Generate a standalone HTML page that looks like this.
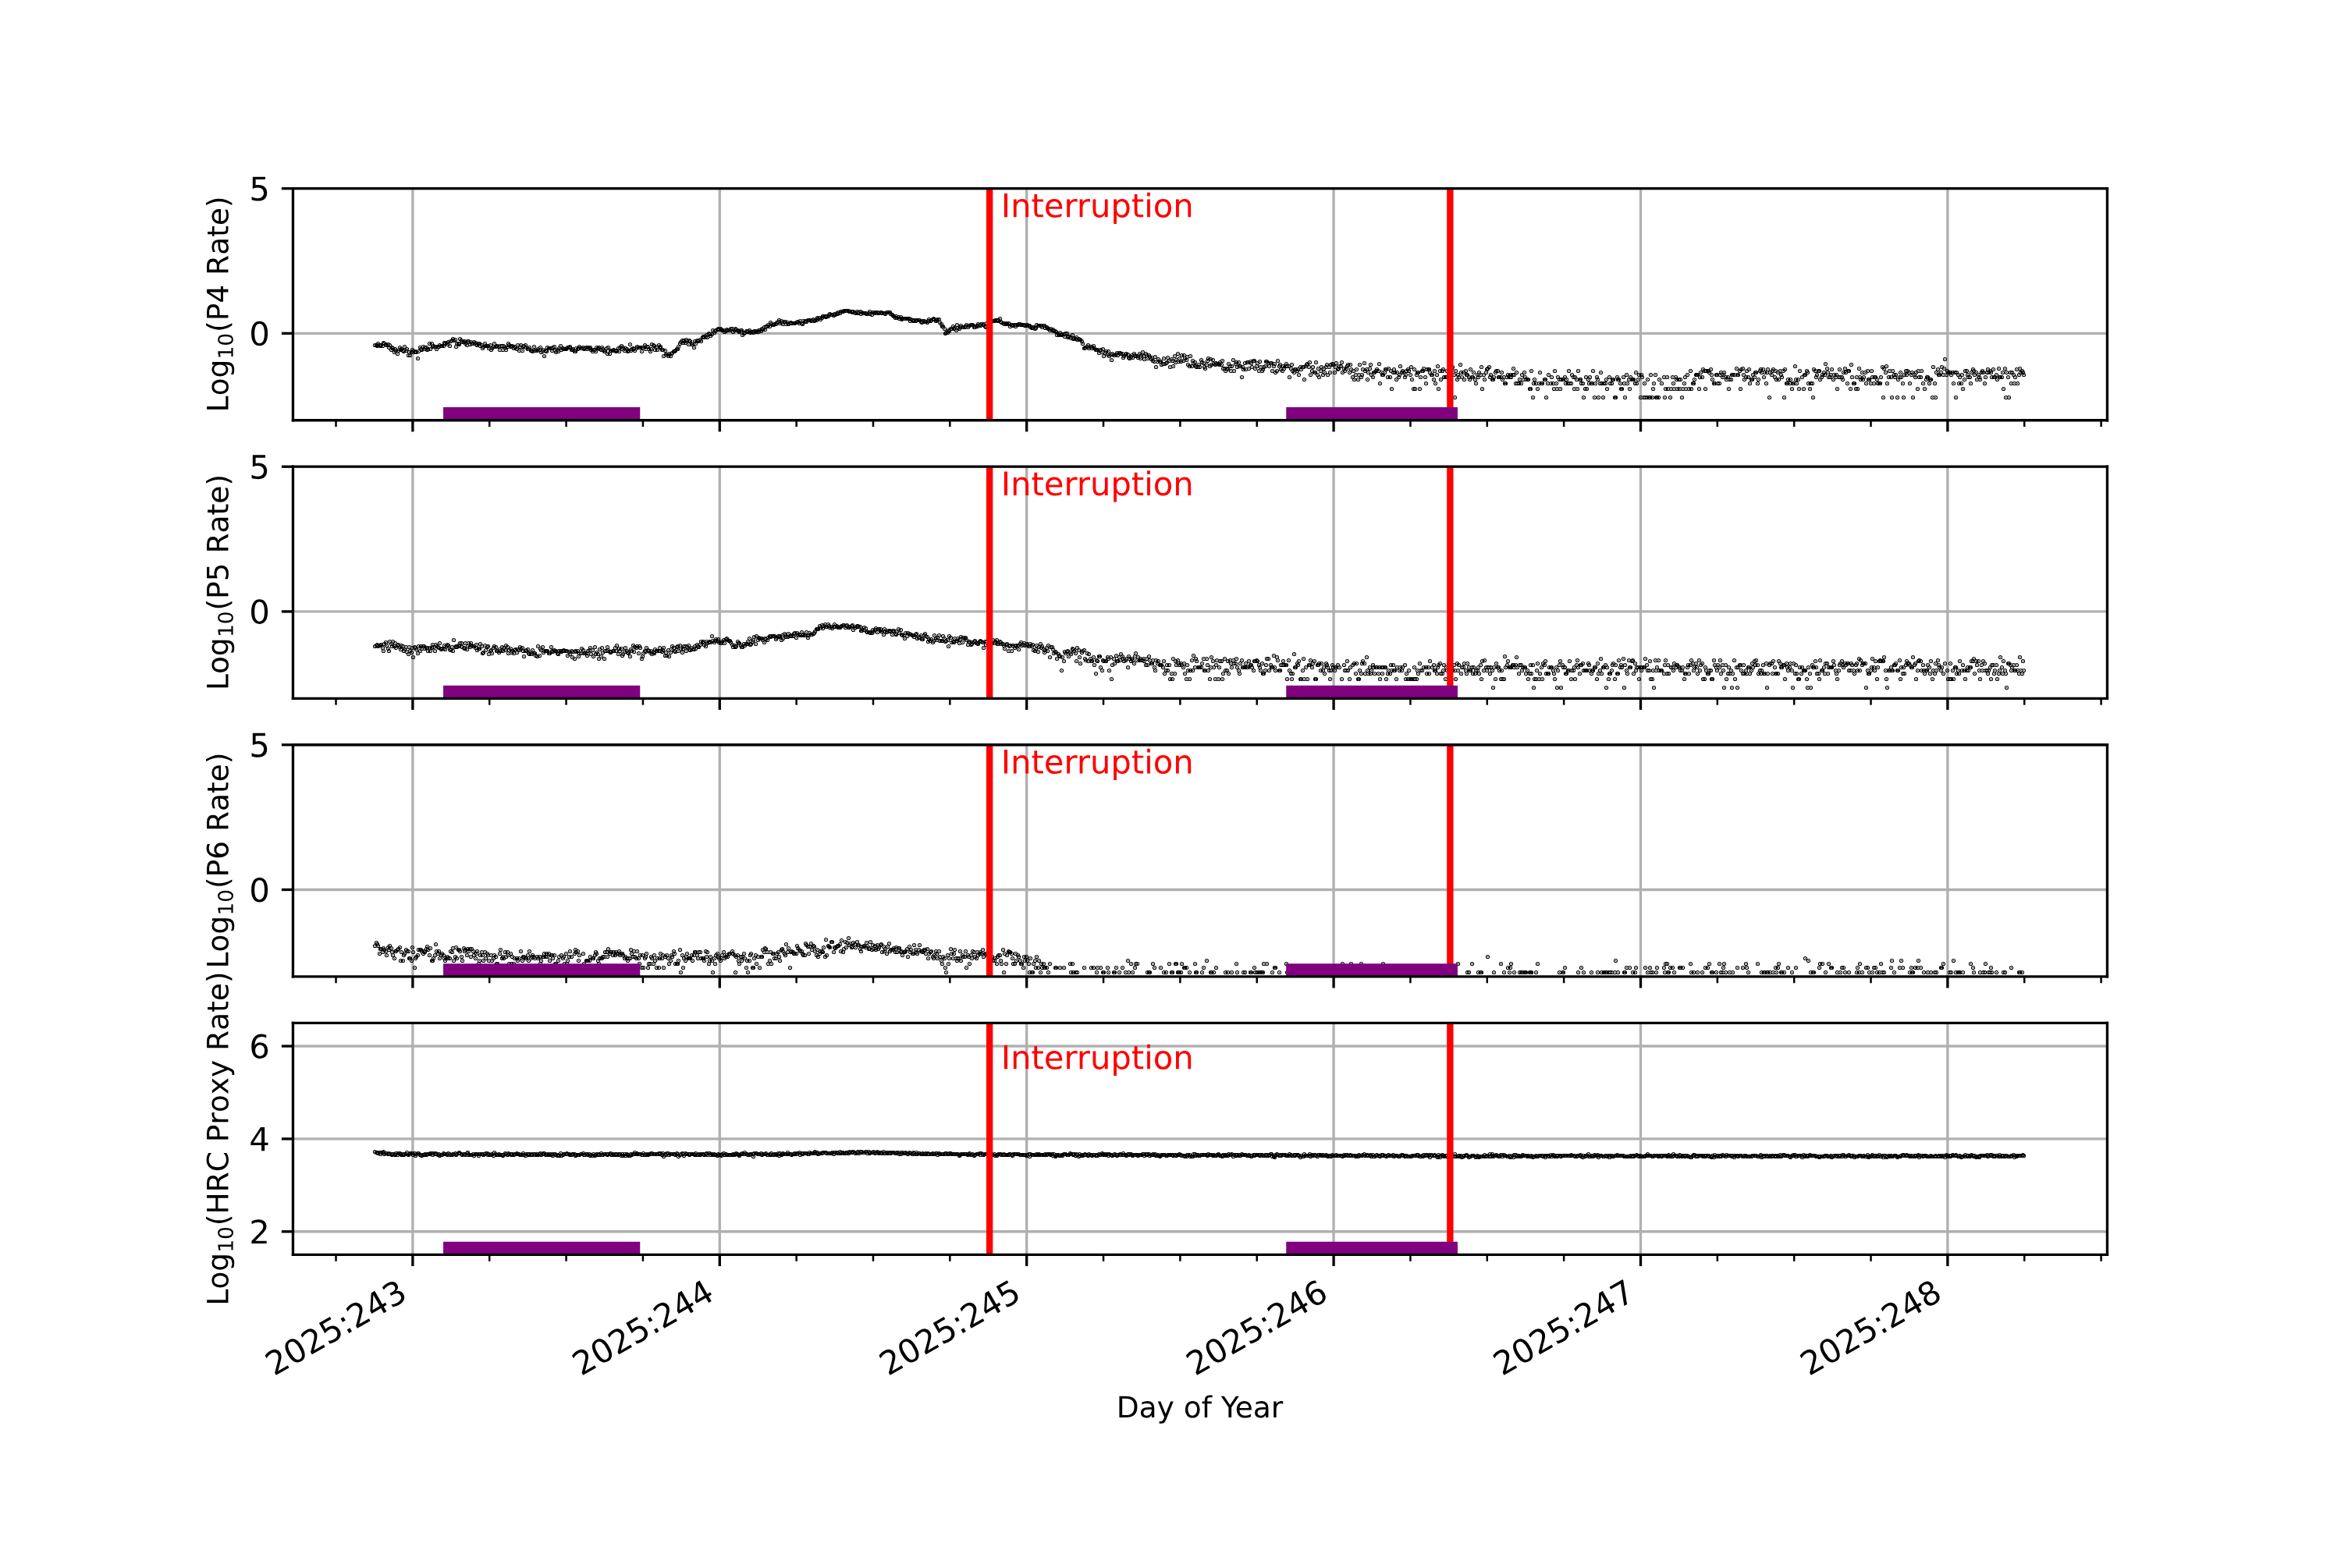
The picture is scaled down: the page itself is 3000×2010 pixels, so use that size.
<!DOCTYPE html>
<html><head><meta charset="utf-8"><title>Rates</title><style>html,body{margin:0;padding:0;background:#fff;font-family:"Liberation Sans",sans-serif}svg{display:block}</style></head><body>
<svg width="3000" height="2010" viewBox="0 0 720 482.4">
<defs>
<style type="text/css">*{stroke-linejoin: round; stroke-linecap: butt}</style>
</defs>
<g id="figure_1">
<g id="patch_1">
<path d="M 0 482.4 
L 720 482.4 
L 720 0 
L 0 0 
z
" style="fill: #ffffff"/>
</g>
<g transform="translate(0.1080 0.1080)"><g id="axes_1">
<g id="patch_2">
<path d="M 90 129.199304 
L 648 129.199304 
L 648 57.888 
L 90 57.888 
z
" style="fill: #ffffff"/>
</g>
<g id="matplotlib.axis_1">
<g id="xtick_1">
<g id="line2d_1">
<path d="M 126.822335 129.199304 
L 126.822335 57.888 
" clip-path="url(#p4e077d8990)" style="fill: none; stroke: #b0b0b0; stroke-width: 0.8; stroke-linecap: square"/>
</g>
<g id="line2d_2">
<defs>
<path id="m1504cfccaf" d="M 0 0 
L 0 3.5 
" style="stroke: #000000; stroke-width: 0.8"/>
</defs>
<g>
<use href="#m1504cfccaf" x="126.822335" y="129.199304" style="stroke: #000000; stroke-width: 0.8"/>
</g>
</g>
</g>
<g id="xtick_2">
<g id="line2d_3">
<path d="M 221.238579 129.199304 
L 221.238579 57.888 
" clip-path="url(#p4e077d8990)" style="fill: none; stroke: #b0b0b0; stroke-width: 0.8; stroke-linecap: square"/>
</g>
<g id="line2d_4">
<g>
<use href="#m1504cfccaf" x="221.238579" y="129.199304" style="stroke: #000000; stroke-width: 0.8"/>
</g>
</g>
</g>
<g id="xtick_3">
<g id="line2d_5">
<path d="M 315.654822 129.199304 
L 315.654822 57.888 
" clip-path="url(#p4e077d8990)" style="fill: none; stroke: #b0b0b0; stroke-width: 0.8; stroke-linecap: square"/>
</g>
<g id="line2d_6">
<g>
<use href="#m1504cfccaf" x="315.654822" y="129.199304" style="stroke: #000000; stroke-width: 0.8"/>
</g>
</g>
</g>
<g id="xtick_4">
<g id="line2d_7">
<path d="M 410.071066 129.199304 
L 410.071066 57.888 
" clip-path="url(#p4e077d8990)" style="fill: none; stroke: #b0b0b0; stroke-width: 0.8; stroke-linecap: square"/>
</g>
<g id="line2d_8">
<g>
<use href="#m1504cfccaf" x="410.071066" y="129.199304" style="stroke: #000000; stroke-width: 0.8"/>
</g>
</g>
</g>
<g id="xtick_5">
<g id="line2d_9">
<path d="M 504.48731 129.199304 
L 504.48731 57.888 
" clip-path="url(#p4e077d8990)" style="fill: none; stroke: #b0b0b0; stroke-width: 0.8; stroke-linecap: square"/>
</g>
<g id="line2d_10">
<g>
<use href="#m1504cfccaf" x="504.48731" y="129.199304" style="stroke: #000000; stroke-width: 0.8"/>
</g>
</g>
</g>
<g id="xtick_6">
<g id="line2d_11">
<path d="M 598.903553 129.199304 
L 598.903553 57.888 
" clip-path="url(#p4e077d8990)" style="fill: none; stroke: #b0b0b0; stroke-width: 0.8; stroke-linecap: square"/>
</g>
<g id="line2d_12">
<g>
<use href="#m1504cfccaf" x="598.903553" y="129.199304" style="stroke: #000000; stroke-width: 0.8"/>
</g>
</g>
</g>
<g id="xtick_7">
<g id="line2d_13">
<defs>
<path id="m05db3bdf9b" d="M 0 0 
L 0 2 
" style="stroke: #000000; stroke-width: 0.6"/>
</defs>
<g>
<use href="#m05db3bdf9b" x="103.218274" y="129.199304" style="stroke: #000000; stroke-width: 0.6"/>
</g>
</g>
</g>
<g id="xtick_8">
<g id="line2d_14">
<g>
<use href="#m05db3bdf9b" x="150.426396" y="129.199304" style="stroke: #000000; stroke-width: 0.6"/>
</g>
</g>
</g>
<g id="xtick_9">
<g id="line2d_15">
<g>
<use href="#m05db3bdf9b" x="174.030457" y="129.199304" style="stroke: #000000; stroke-width: 0.6"/>
</g>
</g>
</g>
<g id="xtick_10">
<g id="line2d_16">
<g>
<use href="#m05db3bdf9b" x="197.634518" y="129.199304" style="stroke: #000000; stroke-width: 0.6"/>
</g>
</g>
</g>
<g id="xtick_11">
<g id="line2d_17">
<g>
<use href="#m05db3bdf9b" x="244.84264" y="129.199304" style="stroke: #000000; stroke-width: 0.6"/>
</g>
</g>
</g>
<g id="xtick_12">
<g id="line2d_18">
<g>
<use href="#m05db3bdf9b" x="268.446701" y="129.199304" style="stroke: #000000; stroke-width: 0.6"/>
</g>
</g>
</g>
<g id="xtick_13">
<g id="line2d_19">
<g>
<use href="#m05db3bdf9b" x="292.050761" y="129.199304" style="stroke: #000000; stroke-width: 0.6"/>
</g>
</g>
</g>
<g id="xtick_14">
<g id="line2d_20">
<g>
<use href="#m05db3bdf9b" x="339.258883" y="129.199304" style="stroke: #000000; stroke-width: 0.6"/>
</g>
</g>
</g>
<g id="xtick_15">
<g id="line2d_21">
<g>
<use href="#m05db3bdf9b" x="362.862944" y="129.199304" style="stroke: #000000; stroke-width: 0.6"/>
</g>
</g>
</g>
<g id="xtick_16">
<g id="line2d_22">
<g>
<use href="#m05db3bdf9b" x="386.467005" y="129.199304" style="stroke: #000000; stroke-width: 0.6"/>
</g>
</g>
</g>
<g id="xtick_17">
<g id="line2d_23">
<g>
<use href="#m05db3bdf9b" x="433.675127" y="129.199304" style="stroke: #000000; stroke-width: 0.6"/>
</g>
</g>
</g>
<g id="xtick_18">
<g id="line2d_24">
<g>
<use href="#m05db3bdf9b" x="457.279188" y="129.199304" style="stroke: #000000; stroke-width: 0.6"/>
</g>
</g>
</g>
<g id="xtick_19">
<g id="line2d_25">
<g>
<use href="#m05db3bdf9b" x="480.883249" y="129.199304" style="stroke: #000000; stroke-width: 0.6"/>
</g>
</g>
</g>
<g id="xtick_20">
<g id="line2d_26">
<g>
<use href="#m05db3bdf9b" x="528.091371" y="129.199304" style="stroke: #000000; stroke-width: 0.6"/>
</g>
</g>
</g>
<g id="xtick_21">
<g id="line2d_27">
<g>
<use href="#m05db3bdf9b" x="551.695431" y="129.199304" style="stroke: #000000; stroke-width: 0.6"/>
</g>
</g>
</g>
<g id="xtick_22">
<g id="line2d_28">
<g>
<use href="#m05db3bdf9b" x="575.299492" y="129.199304" style="stroke: #000000; stroke-width: 0.6"/>
</g>
</g>
</g>
<g id="xtick_23">
<g id="line2d_29">
<g>
<use href="#m05db3bdf9b" x="622.507614" y="129.199304" style="stroke: #000000; stroke-width: 0.6"/>
</g>
</g>
</g>
<g id="xtick_24">
<g id="line2d_30">
<g>
<use href="#m05db3bdf9b" x="646.111675" y="129.199304" style="stroke: #000000; stroke-width: 0.6"/>
</g>
</g>
</g>
</g>
<g id="matplotlib.axis_2">
<g id="ytick_1">
<g id="line2d_31">
<path d="M 90 102.457565 
L 648 102.457565 
" clip-path="url(#p4e077d8990)" style="fill: none; stroke: #b0b0b0; stroke-width: 0.8; stroke-linecap: square"/>
</g>
<g id="line2d_32">
<defs>
<path id="m5d545ce8f8" d="M 0 0 
L -3.5 0 
" style="stroke: #000000; stroke-width: 0.8"/>
</defs>
<g>
<use href="#m5d545ce8f8" x="90" y="102.457565" style="stroke: #000000; stroke-width: 0.8"/>
</g>
</g>
<g id="text_1" transform="translate(-0.1080 -0.1080)">
<!-- 0 -->
<g transform="translate(76.6375 106.256784) scale(0.1 -0.1)">
<defs>
<path id="DejaVuSans-30" d="M 2034 4250 
Q 1547 4250 1301 3770 
Q 1056 3291 1056 2328 
Q 1056 1369 1301 889 
Q 1547 409 2034 409 
Q 2525 409 2770 889 
Q 3016 1369 3016 2328 
Q 3016 3291 2770 3770 
Q 2525 4250 2034 4250 
z
M 2034 4750 
Q 2819 4750 3233 4129 
Q 3647 3509 3647 2328 
Q 3647 1150 3233 529 
Q 2819 -91 2034 -91 
Q 1250 -91 836 529 
Q 422 1150 422 2328 
Q 422 3509 836 4129 
Q 1250 4750 2034 4750 
z
" transform="scale(0.015625)"/>
</defs>
<use href="#DejaVuSans-30"/>
</g>
</g>
</g>
<g id="ytick_2">
<g id="line2d_33">
<path d="M 90 57.888 
L 648 57.888 
" clip-path="url(#p4e077d8990)" style="fill: none; stroke: #b0b0b0; stroke-width: 0.8; stroke-linecap: square"/>
</g>
<g id="line2d_34">
<g>
<use href="#m5d545ce8f8" x="90" y="57.888" style="stroke: #000000; stroke-width: 0.8"/>
</g>
</g>
<g id="text_2" transform="translate(-0.1080 -0.1080)">
<!-- 5 -->
<g transform="translate(76.6375 61.687219) scale(0.1 -0.1)">
<defs>
<path id="DejaVuSans-35" d="M 691 4666 
L 3169 4666 
L 3169 4134 
L 1269 4134 
L 1269 2991 
Q 1406 3038 1543 3061 
Q 1681 3084 1819 3084 
Q 2600 3084 3056 2656 
Q 3513 2228 3513 1497 
Q 3513 744 3044 326 
Q 2575 -91 1722 -91 
Q 1428 -91 1123 -41 
Q 819 9 494 109 
L 494 744 
Q 775 591 1075 516 
Q 1375 441 1709 441 
Q 2250 441 2565 725 
Q 2881 1009 2881 1497 
Q 2881 1984 2565 2268 
Q 2250 2553 1709 2553 
Q 1456 2553 1204 2497 
Q 953 2441 691 2322 
L 691 4666 
z
" transform="scale(0.015625)"/>
</defs>
<use href="#DejaVuSans-35"/>
</g>
</g>
</g>
<g id="text_3" transform="translate(-0.1080 -0.1080)">
<!-- Log$_{10}$(P4 Rate) -->
<g transform="translate(70.1955 126.798652) rotate(-90) scale(0.09 -0.09)">
<defs>
<path id="DejaVuSans-4c" d="M 628 4666 
L 1259 4666 
L 1259 531 
L 3531 531 
L 3531 0 
L 628 0 
L 628 4666 
z
" transform="scale(0.015625)"/>
<path id="DejaVuSans-6f" d="M 1959 3097 
Q 1497 3097 1228 2736 
Q 959 2375 959 1747 
Q 959 1119 1226 758 
Q 1494 397 1959 397 
Q 2419 397 2687 759 
Q 2956 1122 2956 1747 
Q 2956 2369 2687 2733 
Q 2419 3097 1959 3097 
z
M 1959 3584 
Q 2709 3584 3137 3096 
Q 3566 2609 3566 1747 
Q 3566 888 3137 398 
Q 2709 -91 1959 -91 
Q 1206 -91 779 398 
Q 353 888 353 1747 
Q 353 2609 779 3096 
Q 1206 3584 1959 3584 
z
" transform="scale(0.015625)"/>
<path id="DejaVuSans-67" d="M 2906 1791 
Q 2906 2416 2648 2759 
Q 2391 3103 1925 3103 
Q 1463 3103 1205 2759 
Q 947 2416 947 1791 
Q 947 1169 1205 825 
Q 1463 481 1925 481 
Q 2391 481 2648 825 
Q 2906 1169 2906 1791 
z
M 3481 434 
Q 3481 -459 3084 -895 
Q 2688 -1331 1869 -1331 
Q 1566 -1331 1297 -1286 
Q 1028 -1241 775 -1147 
L 775 -588 
Q 1028 -725 1275 -790 
Q 1522 -856 1778 -856 
Q 2344 -856 2625 -561 
Q 2906 -266 2906 331 
L 2906 616 
Q 2728 306 2450 153 
Q 2172 0 1784 0 
Q 1141 0 747 490 
Q 353 981 353 1791 
Q 353 2603 747 3093 
Q 1141 3584 1784 3584 
Q 2172 3584 2450 3431 
Q 2728 3278 2906 2969 
L 2906 3500 
L 3481 3500 
L 3481 434 
z
" transform="scale(0.015625)"/>
<path id="DejaVuSans-31" d="M 794 531 
L 1825 531 
L 1825 4091 
L 703 3866 
L 703 4441 
L 1819 4666 
L 2450 4666 
L 2450 531 
L 3481 531 
L 3481 0 
L 794 0 
L 794 531 
z
" transform="scale(0.015625)"/>
<path id="DejaVuSans-28" d="M 1984 4856 
Q 1566 4138 1362 3434 
Q 1159 2731 1159 2009 
Q 1159 1288 1364 580 
Q 1569 -128 1984 -844 
L 1484 -844 
Q 1016 -109 783 600 
Q 550 1309 550 2009 
Q 550 2706 781 3412 
Q 1013 4119 1484 4856 
L 1984 4856 
z
" transform="scale(0.015625)"/>
<path id="DejaVuSans-50" d="M 1259 4147 
L 1259 2394 
L 2053 2394 
Q 2494 2394 2734 2622 
Q 2975 2850 2975 3272 
Q 2975 3691 2734 3919 
Q 2494 4147 2053 4147 
L 1259 4147 
z
M 628 4666 
L 2053 4666 
Q 2838 4666 3239 4311 
Q 3641 3956 3641 3272 
Q 3641 2581 3239 2228 
Q 2838 1875 2053 1875 
L 1259 1875 
L 1259 0 
L 628 0 
L 628 4666 
z
" transform="scale(0.015625)"/>
<path id="DejaVuSans-34" d="M 2419 4116 
L 825 1625 
L 2419 1625 
L 2419 4116 
z
M 2253 4666 
L 3047 4666 
L 3047 1625 
L 3713 1625 
L 3713 1100 
L 3047 1100 
L 3047 0 
L 2419 0 
L 2419 1100 
L 313 1100 
L 313 1709 
L 2253 4666 
z
" transform="scale(0.015625)"/>
<path id="DejaVuSans-20" transform="scale(0.015625)"/>
<path id="DejaVuSans-52" d="M 2841 2188 
Q 3044 2119 3236 1894 
Q 3428 1669 3622 1275 
L 4263 0 
L 3584 0 
L 2988 1197 
Q 2756 1666 2539 1819 
Q 2322 1972 1947 1972 
L 1259 1972 
L 1259 0 
L 628 0 
L 628 4666 
L 2053 4666 
Q 2853 4666 3247 4331 
Q 3641 3997 3641 3322 
Q 3641 2881 3436 2590 
Q 3231 2300 2841 2188 
z
M 1259 4147 
L 1259 2491 
L 2053 2491 
Q 2509 2491 2742 2702 
Q 2975 2913 2975 3322 
Q 2975 3731 2742 3939 
Q 2509 4147 2053 4147 
L 1259 4147 
z
" transform="scale(0.015625)"/>
<path id="DejaVuSans-61" d="M 2194 1759 
Q 1497 1759 1228 1600 
Q 959 1441 959 1056 
Q 959 750 1161 570 
Q 1363 391 1709 391 
Q 2188 391 2477 730 
Q 2766 1069 2766 1631 
L 2766 1759 
L 2194 1759 
z
M 3341 1997 
L 3341 0 
L 2766 0 
L 2766 531 
Q 2569 213 2275 61 
Q 1981 -91 1556 -91 
Q 1019 -91 701 211 
Q 384 513 384 1019 
Q 384 1609 779 1909 
Q 1175 2209 1959 2209 
L 2766 2209 
L 2766 2266 
Q 2766 2663 2505 2880 
Q 2244 3097 1772 3097 
Q 1472 3097 1187 3025 
Q 903 2953 641 2809 
L 641 3341 
Q 956 3463 1253 3523 
Q 1550 3584 1831 3584 
Q 2591 3584 2966 3190 
Q 3341 2797 3341 1997 
z
" transform="scale(0.015625)"/>
<path id="DejaVuSans-74" d="M 1172 4494 
L 1172 3500 
L 2356 3500 
L 2356 3053 
L 1172 3053 
L 1172 1153 
Q 1172 725 1289 603 
Q 1406 481 1766 481 
L 2356 481 
L 2356 0 
L 1766 0 
Q 1100 0 847 248 
Q 594 497 594 1153 
L 594 3053 
L 172 3053 
L 172 3500 
L 594 3500 
L 594 4494 
L 1172 4494 
z
" transform="scale(0.015625)"/>
<path id="DejaVuSans-65" d="M 3597 1894 
L 3597 1613 
L 953 1613 
Q 991 1019 1311 708 
Q 1631 397 2203 397 
Q 2534 397 2845 478 
Q 3156 559 3463 722 
L 3463 178 
Q 3153 47 2828 -22 
Q 2503 -91 2169 -91 
Q 1331 -91 842 396 
Q 353 884 353 1716 
Q 353 2575 817 3079 
Q 1281 3584 2069 3584 
Q 2775 3584 3186 3129 
Q 3597 2675 3597 1894 
z
M 3022 2063 
Q 3016 2534 2758 2815 
Q 2500 3097 2075 3097 
Q 1594 3097 1305 2825 
Q 1016 2553 972 2059 
L 3022 2063 
z
" transform="scale(0.015625)"/>
<path id="DejaVuSans-29" d="M 513 4856 
L 1013 4856 
Q 1481 4119 1714 3412 
Q 1947 2706 1947 2009 
Q 1947 1309 1714 600 
Q 1481 -109 1013 -844 
L 513 -844 
Q 928 -128 1133 580 
Q 1338 1288 1338 2009 
Q 1338 2731 1133 3434 
Q 928 4138 513 4856 
z
" transform="scale(0.015625)"/>
</defs>
<use href="#DejaVuSans-4c" transform="translate(0 0.125)"/>
<use href="#DejaVuSans-6f" transform="translate(55.712891 0.125)"/>
<use href="#DejaVuSans-67" transform="translate(116.894531 0.125)"/>
<use href="#DejaVuSans-31" transform="translate(181.328125 -16.28125) scale(0.7)"/>
<use href="#DejaVuSans-30" transform="translate(225.864258 -16.28125) scale(0.7)"/>
<use href="#DejaVuSans-28" transform="translate(273.134766 0.125)"/>
<use href="#DejaVuSans-50" transform="translate(312.148438 0.125)"/>
<use href="#DejaVuSans-34" transform="translate(372.451172 0.125)"/>
<use href="#DejaVuSans-20" transform="translate(436.074219 0.125)"/>
<use href="#DejaVuSans-52" transform="translate(467.861328 0.125)"/>
<use href="#DejaVuSans-61" transform="translate(537.34375 0.125)"/>
<use href="#DejaVuSans-74" transform="translate(598.623047 0.125)"/>
<use href="#DejaVuSans-65" transform="translate(637.832031 0.125)"/>
<use href="#DejaVuSans-29" transform="translate(699.355469 0.125)"/>
</g>
</g>
</g>
<defs><marker id="mk" markerUnits="userSpaceOnUse" markerWidth="8" markerHeight="8" refX="4" refY="4" viewBox="0 0 8 8" overflow="visible"><circle cx="4" cy="4" r="2.083" fill="none" stroke="#000" stroke-width="1.042"/><rect x="3.5" y="3.5" width="1" height="1" fill="#000"/></marker></defs>
<g transform="translate(-0.1080 -0.1080) scale(0.24)"><defs><clipPath id="cd0"><rect x="375.00" y="241.20" width="2325.00" height="297.13"/></clipPath></defs><g clip-path="url(#cd0)"><polyline transform="translate(.5 .5)" fill="none" stroke="none" marker-start="url(#mk)" marker-mid="url(#mk)" marker-end="url(#mk)" points="480,442 482,442 483,443 484,440 486,442 487,443 488,442 490,443 491,439 492,440 494,441 495,442 497,441 498,445 499,442 501,448 502,445 503,446 505,451 506,447 507,449 509,453 510,449 512,445 513,448 514,447 516,449 517,450 518,444 520,449 521,447 523,455 524,451 525,455 527,451 528,448 529,450 531,451 532,450 533,451 535,459 536,450 538,445 539,447 540,448 542,444 543,447 544,445 546,445 547,448 548,447 550,440 551,447 553,440 554,444 555,443 557,444 558,444 559,447 561,444 562,444 563,442 565,443 566,443 568,443 569,439 570,440 572,439 573,441 574,438 576,443 577,437 579,436 580,434 581,436 583,435 584,444 585,440 587,440 588,441 589,434 591,436 592,438 594,438 595,437 596,440 598,442 599,437 600,437 602,441 603,438 604,440 606,440 607,438 609,439 610,441 611,442 613,440 614,440 615,443 617,442 618,446 619,444 621,440 622,443 624,443 625,443 626,446 628,442 629,448 630,446 632,444 633,440 635,444 636,443 637,443 639,444 640,448 641,443 643,443 644,448 645,443 647,445 648,448 650,444 651,440 652,442 654,444 655,443 656,443 658,446 659,444 660,445 662,447 663,442 665,449 666,444 667,442 669,449 670,444 671,443 673,442 674,445 676,447 677,447 678,445 680,449 681,449 682,450 684,444 685,449 686,449 688,449 689,447 691,448 692,445 693,451 695,450 696,448 697,456 699,449 700,450 701,445 703,446 704,446 706,446 707,449 708,445 710,444 711,449 712,451 714,448 715,450 716,446 718,443 719,448 721,446 722,447 723,447 725,447 726,446 727,445 729,445 730,444 732,448 733,448 734,447 736,450 737,450 738,446 740,447 741,446 742,444 744,446 745,446 747,445 748,447 749,446 751,445 752,447 753,445 755,446 756,445 757,448 759,450 760,448 762,448 763,450 764,445 766,446 767,445 768,447 770,448 771,445 772,447 774,450 775,450 777,446 778,453 779,445 781,453 782,449 783,449 785,449 786,448 788,449 789,450 790,449 792,446 793,450 794,445 796,443 797,447 798,445 800,449 801,446 803,447 804,450 805,449 807,441 808,449 809,447 811,446 812,447 813,449 815,446 816,444 818,445 819,445 820,445 822,450 823,445 824,445 826,442 827,447 828,444 830,444 831,447 833,450 834,447 835,441 837,442 838,443 839,448 841,444 842,448 844,442 845,445 846,444 848,448 849,448 850,456 852,449 853,454 854,454 856,456 857,453 859,456 860,453 861,452 863,450 864,450 865,449 867,447 868,447 869,444 871,440 872,438 874,436 875,439 876,436 878,439 879,435 880,437 882,441 883,436 884,437 886,441 887,441 889,445 890,437 891,440 893,436 894,437 895,436 897,435 898,437 900,432 901,431 902,432 904,431 905,429 906,432 908,427 909,428 910,430 912,428 913,423 915,426 916,424 917,423 919,422 920,421 921,422 923,421 924,422 925,423 927,423 928,425 930,424 931,422 932,423 934,423 935,423 936,421 938,421 939,425 941,423 942,421 943,422 945,423 946,424 947,425 949,423 950,423 951,429 953,427 954,426 956,424 957,425 958,424 960,423 961,426 962,425 964,425 965,426 966,424 968,424 969,425 971,425 972,423 973,423 975,424 976,421 977,422 979,419 980,422 981,418 983,418 984,416 986,418 987,413 988,415 990,416 991,416 992,415 994,415 995,413 997,412 998,410 999,414 1001,411 1002,413 1003,415 1005,412 1006,412 1007,415 1009,413 1010,415 1012,414 1013,413 1014,414 1016,414 1017,414 1018,414 1020,413 1021,413 1022,412 1024,414 1025,411 1027,414 1028,415 1029,411 1031,412 1032,411 1033,412 1035,410 1036,410 1037,410 1039,411 1040,410 1042,409 1043,411 1044,410 1046,410 1047,407 1048,408 1050,407 1051,409 1053,407 1054,405 1055,405 1057,405 1058,406 1059,405 1061,405 1062,403 1063,402 1065,403 1066,403 1068,404 1069,402 1070,403 1072,401 1073,402 1074,400 1076,401 1077,399 1078,399 1080,399 1081,398 1083,398 1084,398 1085,398 1087,398 1088,399 1089,399 1091,399 1092,400 1093,399 1095,400 1096,401 1098,399 1099,401 1100,400 1102,399 1103,402 1104,400 1106,401 1107,401 1109,401 1110,402 1111,402 1113,401 1114,399 1115,402 1117,403 1118,400 1119,400 1121,401 1122,400 1124,400 1125,401 1126,401 1128,400 1129,400 1130,401 1132,401 1133,401 1134,402 1136,400 1137,400 1139,400 1140,400 1141,402 1143,403 1144,404 1145,405 1147,407 1148,405 1149,407 1151,406 1152,408 1154,406 1155,409 1156,408 1158,408 1159,408 1160,408 1162,408 1163,408 1165,408 1166,411 1167,409 1169,410 1170,411 1171,410 1173,411 1174,410 1175,410 1177,410 1178,410 1180,412 1181,413 1182,411 1184,411 1185,412 1186,412 1188,413 1189,411 1190,409 1192,411 1193,410 1195,409 1196,408 1197,409 1199,411 1200,410 1201,409 1203,409 1204,413 1206,415 1207,418 1208,418 1210,421 1211,427 1212,426 1214,426 1215,423 1216,424 1218,421 1219,421 1221,418 1222,421 1223,420 1225,423 1226,416 1227,420 1229,421 1230,419 1231,417 1233,419 1234,419 1236,419 1237,418 1238,416 1240,419 1241,417 1242,417 1244,416 1245,416 1246,416 1248,419 1249,419 1251,417 1252,418 1253,415 1255,416 1256,417 1257,415 1259,416 1260,415 1262,418 1263,419 1264,414 1266,410 1267,411 1268,411 1270,412 1271,411 1272,411 1274,411 1275,410 1277,410 1278,411 1279,410 1281,408 1282,412 1283,413 1285,414 1286,414 1287,415 1289,414 1290,415 1292,414 1293,415 1294,418 1296,416 1297,416 1298,417 1300,416 1301,418 1302,416 1304,416 1305,415 1307,415 1308,416 1309,416 1311,416 1312,416 1313,417 1315,417 1316,416 1318,417 1319,417 1320,419 1322,420 1323,419 1324,419 1326,421 1327,420 1328,416 1330,417 1331,417 1333,417 1334,417 1335,419 1337,417 1338,417 1339,420 1341,419 1342,420 1343,421 1345,423 1346,421 1348,423 1349,422 1350,424 1352,424 1353,425 1354,429 1356,428 1357,429 1358,426 1360,429 1361,428 1363,428 1364,431 1365,427 1367,427 1368,432 1369,431 1371,431 1372,433 1374,429 1375,434 1376,433 1378,434 1379,432 1380,435 1382,434 1383,435 1384,435 1386,437 1387,440 1389,446 1390,445 1391,445 1393,444 1394,442 1395,446 1397,444 1398,444 1399,446 1401,443 1402,446 1404,448 1405,448 1406,448 1408,452 1409,449 1410,448 1412,451 1413,447 1414,456 1416,452 1417,450 1419,454 1420,450 1421,456 1423,454 1424,461 1425,453 1427,455 1428,455 1430,454 1431,452 1432,455 1434,452 1435,452 1436,453 1438,453 1439,458 1440,456 1442,454 1443,453 1445,454 1446,458 1447,459 1449,457 1450,455 1451,458 1453,453 1454,455 1455,456 1457,456 1458,458 1460,453 1461,459 1462,455 1464,451 1465,456 1466,460 1468,453 1469,455 1470,459 1472,455 1473,457 1475,460 1476,458 1477,462 1479,463 1480,457 1481,470 1483,463 1484,460 1486,463 1487,463 1488,467 1490,466 1491,459 1492,466 1494,465 1495,464 1496,458 1498,462 1499,470 1501,460 1502,462 1503,469 1505,456 1506,464 1507,461 1509,453 1510,463 1511,459 1513,463 1514,455 1516,462 1517,455 1518,459 1520,461 1521,457 1522,467 1524,469 1525,456 1527,469 1528,462 1529,465 1531,464 1532,469 1533,470 1535,470 1536,467 1537,470 1539,461 1540,464 1542,465 1543,470 1544,472 1546,467 1547,462 1548,459 1550,469 1551,460 1552,467 1554,461 1555,466 1557,467 1558,465 1559,466 1561,466 1562,467 1563,464 1565,467 1566,462 1567,472 1569,472 1570,475 1572,472 1573,473 1574,466 1576,469 1577,475 1578,469 1580,461 1581,475 1583,466 1584,464 1585,470 1587,464 1588,469 1589,469 1591,483 1592,470 1593,473 1595,465 1596,473 1598,464 1599,464 1600,472 1602,463 1603,465 1604,470 1606,462 1607,462 1608,472 1610,469 1611,465 1613,475 1614,463 1615,470 1617,475 1618,473 1619,470 1621,469 1622,463 1623,463 1625,465 1626,469 1628,465 1629,465 1630,475 1632,469 1633,466 1634,477 1636,475 1637,462 1639,469 1640,467 1641,473 1643,475 1644,469 1645,472 1647,469 1648,466 1649,469 1651,469 1652,483 1654,472 1655,467 1656,475 1658,477 1659,473 1660,473 1662,475 1663,473 1664,480 1666,470 1667,473 1669,470 1670,470 1671,486 1673,469 1674,467 1675,466 1677,470 1678,464 1679,480 1681,475 1682,470 1684,477 1685,477 1686,464 1688,480 1689,472 1690,483 1692,475 1693,470 1695,480 1696,472 1697,477 1699,470 1700,467 1701,480 1703,470 1704,477 1705,467 1707,466 1708,467 1710,477 1711,470 1712,465 1714,473 1715,472 1716,469 1718,469 1719,464 1720,477 1722,472 1723,475 1725,472 1726,469 1727,467 1729,477 1730,467 1731,473 1733,483 1734,475 1735,486 1737,480 1738,473 1740,486 1741,480 1742,467 1744,483 1745,480 1746,473 1748,465 1749,475 1751,473 1752,486 1753,477 1755,472 1756,467 1757,480 1759,483 1760,477 1761,477 1763,475 1764,473 1766,475 1767,466 1768,491 1770,477 1771,480 1772,480 1774,477 1775,473 1776,473 1778,483 1779,472 1781,483 1782,475 1783,498 1785,477 1786,473 1787,477 1789,486 1790,477 1792,483 1793,480 1794,469 1796,477 1797,475 1798,477 1800,483 1801,480 1802,475 1804,473 1805,475 1807,480 1808,470 1809,486 1811,498 1812,473 1813,498 1815,480 1816,477 1817,477 1819,498 1820,483 1822,475 1823,475 1824,472 1826,483 1827,491 1828,473 1830,473 1831,473 1832,477 1834,480 1835,480 1837,486 1838,475 1839,491 1841,480 1842,469 1843,498 1845,475 1846,486 1848,475 1849,473 1850,483 1852,483 1853,483 1854,475 1856,480 1857,475 1858,472 1860,472 1861,470 1863,480 1864,509 1865,475 1867,486 1868,480 1869,483 1871,467 1872,477 1873,483 1875,477 1876,486 1878,475 1879,480 1880,480 1882,483 1883,486 1884,473 1886,483 1887,483 1888,477 1890,486 1891,491 1893,480 1894,483 1895,477 1897,480 1898,470 1899,498 1901,480 1902,486 1904,477 1905,473 1906,472 1908,470 1909,483 1910,480 1912,486 1913,486 1914,483 1916,477 1917,475 1919,475 1920,483 1921,483 1923,483 1924,477 1925,486 1927,483 1928,491 1929,491 1931,483 1932,480 1934,483 1935,480 1936,483 1938,480 1939,472 1940,480 1942,491 1943,477 1944,491 1946,491 1947,486 1949,491 1950,480 1951,486 1953,477 1954,483 1955,486 1957,486 1958,486 1960,498 1961,498 1962,475 1964,509 1965,491 1966,486 1968,491 1970,498 1972,491 1973,477 1975,491 1976,491 1979,486 1980,486 1981,509 1983,491 1984,480 1987,491 1988,483 1990,491 1991,498 1992,475 1994,491 1995,498 1996,483 1998,486 1999,498 2000,486 2002,486 2003,486 2005,483 2006,491 2007,486 2009,491 2010,475 2011,491 2013,491 2014,480 2016,483 2017,498 2018,483 2020,486 2021,498 2022,475 2024,486 2025,486 2026,491 2028,491 2029,509 2031,498 2032,483 2033,498 2035,486 2036,491 2037,483 2039,491 2040,491 2041,475 2043,509 2044,491 2046,483 2047,486 2048,509 2050,491 2051,477 2052,491 2054,509 2055,491 2057,491 2058,486 2059,498 2062,483 2063,491 2065,491 2066,486 2067,486 2069,509 2070,509 2072,483 2073,486 2074,486 2076,491 2077,498 2078,498 2080,483 2081,491 2082,509 2084,480 2085,491 2087,486 2088,498 2089,483 2091,486 2092,486 2093,486 2095,491 2096,477 2097,491 2099,486 2100,480 2102,509 2103,480 2104,483 2106,509 2107,491 2108,509 2110,509 2111,486 2113,509 2114,509 2115,480 2117,509 2118,498 2119,491 2121,480 2122,509 2123,509 2125,509 2126,486 2129,491 2132,483 2133,509 2134,498 2136,483 2137,498 2140,509 2141,498 2143,483 2144,491 2145,498 2147,483 2148,486 2149,498 2151,486 2152,498 2153,486 2155,509 2156,498 2158,491 2159,483 2160,498 2162,480 2164,498 2166,475 2167,498 2169,491 2170,491 2171,486 2173,480 2174,480 2175,480 2177,498 2178,483 2179,477 2181,483 2182,473 2184,475 2185,498 2186,475 2188,475 2189,475 2190,477 2192,473 2193,480 2194,486 2196,491 2197,491 2199,480 2200,480 2201,491 2203,491 2204,480 2205,477 2207,483 2208,480 2209,477 2211,483 2212,486 2214,483 2215,498 2216,486 2218,486 2219,480 2220,480 2222,480 2225,472 2226,480 2227,480 2229,475 2230,498 2231,473 2233,472 2234,480 2235,486 2237,483 2238,475 2240,483 2241,473 2242,491 2244,486 2245,486 2246,480 2248,483 2249,477 2250,477 2252,491 2253,486 2255,475 2256,473 2257,477 2259,473 2260,483 2261,477 2263,491 2264,477 2265,473 2267,509 2268,477 2270,480 2271,475 2272,473 2274,483 2275,475 2276,486 2278,477 2279,486 2281,475 2282,480 2283,483 2285,475 2286,509 2287,473 2289,491 2290,491 2291,486 2293,491 2294,486 2296,498 2297,491 2298,491 2300,469 2301,486 2302,491 2304,486 2305,498 2306,475 2309,483 2311,498 2312,480 2313,480 2315,475 2316,477 2317,491 2319,498 2320,491 2322,491 2323,509 2324,473 2326,475 2327,483 2328,480 2330,475 2331,475 2332,486 2334,483 2335,480 2337,477 2338,480 2339,466 2341,472 2342,477 2343,483 2345,483 2346,480 2347,473 2349,486 2350,480 2352,483 2353,480 2354,498 2356,483 2357,473 2358,483 2360,483 2361,486 2362,477 2364,472 2365,477 2367,491 2368,475 2369,475 2371,498 2372,467 2373,483 2375,491 2376,491 2378,498 2379,483 2380,498 2382,472 2383,483 2384,486 2386,477 2387,486 2388,483 2390,477 2391,491 2393,475 2394,486 2395,486 2397,491 2398,475 2399,483 2401,491 2402,483 2403,483 2405,486 2406,491 2408,491 2409,491 2410,483 2412,470 2413,509 2414,472 2416,477 2417,469 2418,491 2420,483 2421,475 2423,483 2424,509 2425,475 2427,480 2428,483 2429,480 2431,509 2432,486 2434,483 2435,477 2436,483 2438,491 2439,509 2440,480 2442,475 2443,480 2444,475 2446,477 2447,491 2449,480 2450,477 2451,509 2453,480 2454,483 2455,477 2457,498 2458,475 2459,483 2461,483 2462,475 2464,491 2466,498 2468,486 2469,483 2470,483 2472,491 2473,486 2474,486 2476,509 2477,470 2479,491 2480,509 2481,477 2483,473 2484,480 2485,480 2487,477 2488,470 2490,480 2491,472 2492,460 2494,480 2495,475 2496,477 2498,477 2499,477 2500,480 2502,477 2503,491 2505,477 2506,509 2507,477 2509,480 2510,491 2511,483 2513,491 2514,480 2515,498 2517,486 2518,475 2520,475 2521,480 2522,483 2524,483 2525,491 2526,477 2528,473 2529,475 2530,480 2532,477 2533,486 2535,480 2536,483 2537,486 2539,477 2540,475 2541,477 2543,491 2544,483 2546,477 2547,473 2548,477 2550,475 2551,477 2552,483 2554,473 2555,483 2556,483 2558,480 2559,486 2561,472 2562,483 2563,483 2565,483 2566,477 2567,498 2569,472 2570,509 2571,477 2573,483 2574,509 2576,477 2577,491 2578,477 2580,480 2581,491 2582,483 2584,473 2585,491 2587,480 2588,472 2589,477 2591,475 2592,477 2593,480"/></g></g>
<g id="VL0">
<path d="M 304.248 129.199304 
L 304.248 57.888 
" clip-path="url(#p4e077d8990)" style="fill: none; stroke: #ff0000; stroke-width: 2; stroke-linecap: square"/>
</g>
<g id="line2d_35">
<path d="M 445.896 129.199304 
L 445.896 57.888 
" clip-path="url(#p4e077d8990)" style="fill: none; stroke: #ff0000; stroke-width: 2; stroke-linecap: square"/>
</g>
<g id="line2d_36">
<path d="M 136.224 129.199304 
L 196.752 129.199304 
" clip-path="url(#p4e077d8990)" style="fill: none; stroke: #800080; stroke-width: 8"/>
</g>
<g id="line2d_37">
<path d="M 395.472 129.199304 
L 448.2 129.199304 
" clip-path="url(#p4e077d8990)" style="fill: none; stroke: #800080; stroke-width: 8"/>
</g>
<g id="patch_3">
<path d="M 90 129.199304 
L 90 57.888 
" style="fill: none; stroke: #000000; stroke-width: 0.8; stroke-linejoin: miter; stroke-linecap: square"/>
</g>
<g id="patch_4">
<path d="M 648 129.199304 
L 648 57.888 
" style="fill: none; stroke: #000000; stroke-width: 0.8; stroke-linejoin: miter; stroke-linecap: square"/>
</g>
<g id="patch_5">
<path d="M 90 129.199304 
L 648 129.199304 
" style="fill: none; stroke: #000000; stroke-width: 0.8; stroke-linejoin: miter; stroke-linecap: square"/>
</g>
<g id="patch_6">
<path d="M 90 57.888 
L 648 57.888 
" style="fill: none; stroke: #000000; stroke-width: 0.8; stroke-linejoin: miter; stroke-linecap: square"/>
</g>
<g id="text_4" transform="translate(-0.1080 -0.1080)">
<!-- Interruption -->
<g style="fill: #ff0000" transform="translate(307.872 66.801913) scale(0.1 -0.1)">
<defs>
<path id="DejaVuSans-49" d="M 628 4666 
L 1259 4666 
L 1259 0 
L 628 0 
L 628 4666 
z
" transform="scale(0.015625)"/>
<path id="DejaVuSans-6e" d="M 3513 2113 
L 3513 0 
L 2938 0 
L 2938 2094 
Q 2938 2591 2744 2837 
Q 2550 3084 2163 3084 
Q 1697 3084 1428 2787 
Q 1159 2491 1159 1978 
L 1159 0 
L 581 0 
L 581 3500 
L 1159 3500 
L 1159 2956 
Q 1366 3272 1645 3428 
Q 1925 3584 2291 3584 
Q 2894 3584 3203 3211 
Q 3513 2838 3513 2113 
z
" transform="scale(0.015625)"/>
<path id="DejaVuSans-72" d="M 2631 2963 
Q 2534 3019 2420 3045 
Q 2306 3072 2169 3072 
Q 1681 3072 1420 2755 
Q 1159 2438 1159 1844 
L 1159 0 
L 581 0 
L 581 3500 
L 1159 3500 
L 1159 2956 
Q 1341 3275 1631 3429 
Q 1922 3584 2338 3584 
Q 2397 3584 2469 3576 
Q 2541 3569 2628 3553 
L 2631 2963 
z
" transform="scale(0.015625)"/>
<path id="DejaVuSans-75" d="M 544 1381 
L 544 3500 
L 1119 3500 
L 1119 1403 
Q 1119 906 1312 657 
Q 1506 409 1894 409 
Q 2359 409 2629 706 
Q 2900 1003 2900 1516 
L 2900 3500 
L 3475 3500 
L 3475 0 
L 2900 0 
L 2900 538 
Q 2691 219 2414 64 
Q 2138 -91 1772 -91 
Q 1169 -91 856 284 
Q 544 659 544 1381 
z
M 1991 3584 
L 1991 3584 
z
" transform="scale(0.015625)"/>
<path id="DejaVuSans-70" d="M 1159 525 
L 1159 -1331 
L 581 -1331 
L 581 3500 
L 1159 3500 
L 1159 2969 
Q 1341 3281 1617 3432 
Q 1894 3584 2278 3584 
Q 2916 3584 3314 3078 
Q 3713 2572 3713 1747 
Q 3713 922 3314 415 
Q 2916 -91 2278 -91 
Q 1894 -91 1617 61 
Q 1341 213 1159 525 
z
M 3116 1747 
Q 3116 2381 2855 2742 
Q 2594 3103 2138 3103 
Q 1681 3103 1420 2742 
Q 1159 2381 1159 1747 
Q 1159 1113 1420 752 
Q 1681 391 2138 391 
Q 2594 391 2855 752 
Q 3116 1113 3116 1747 
z
" transform="scale(0.015625)"/>
<path id="DejaVuSans-69" d="M 603 3500 
L 1178 3500 
L 1178 0 
L 603 0 
L 603 3500 
z
M 603 4863 
L 1178 4863 
L 1178 4134 
L 603 4134 
L 603 4863 
z
" transform="scale(0.015625)"/>
</defs>
<use href="#DejaVuSans-49"/>
<use href="#DejaVuSans-6e" transform="translate(29.492188 0)"/>
<use href="#DejaVuSans-74" transform="translate(92.871094 0)"/>
<use href="#DejaVuSans-65" transform="translate(132.080078 0)"/>
<use href="#DejaVuSans-72" transform="translate(193.603516 0)"/>
<use href="#DejaVuSans-72" transform="translate(232.966797 0)"/>
<use href="#DejaVuSans-75" transform="translate(274.080078 0)"/>
<use href="#DejaVuSans-70" transform="translate(337.458984 0)"/>
<use href="#DejaVuSans-74" transform="translate(400.935547 0)"/>
<use href="#DejaVuSans-69" transform="translate(440.144531 0)"/>
<use href="#DejaVuSans-6f" transform="translate(467.927734 0)"/>
<use href="#DejaVuSans-6e" transform="translate(529.109375 0)"/>
</g>
</g>
</g>
<g id="axes_2">
<g id="patch_7">
<path d="M 90 214.77287 
L 648 214.77287 
L 648 143.461565 
L 90 143.461565 
z
" style="fill: #ffffff"/>
</g>
<g id="matplotlib.axis_3">
<g id="xtick_25">
<g id="line2d_38">
<path d="M 126.822335 214.77287 
L 126.822335 143.461565 
" clip-path="url(#p9fffee1bb5)" style="fill: none; stroke: #b0b0b0; stroke-width: 0.8; stroke-linecap: square"/>
</g>
<g id="line2d_39">
<g>
<use href="#m1504cfccaf" x="126.822335" y="214.77287" style="stroke: #000000; stroke-width: 0.8"/>
</g>
</g>
</g>
<g id="xtick_26">
<g id="line2d_40">
<path d="M 221.238579 214.77287 
L 221.238579 143.461565 
" clip-path="url(#p9fffee1bb5)" style="fill: none; stroke: #b0b0b0; stroke-width: 0.8; stroke-linecap: square"/>
</g>
<g id="line2d_41">
<g>
<use href="#m1504cfccaf" x="221.238579" y="214.77287" style="stroke: #000000; stroke-width: 0.8"/>
</g>
</g>
</g>
<g id="xtick_27">
<g id="line2d_42">
<path d="M 315.654822 214.77287 
L 315.654822 143.461565 
" clip-path="url(#p9fffee1bb5)" style="fill: none; stroke: #b0b0b0; stroke-width: 0.8; stroke-linecap: square"/>
</g>
<g id="line2d_43">
<g>
<use href="#m1504cfccaf" x="315.654822" y="214.77287" style="stroke: #000000; stroke-width: 0.8"/>
</g>
</g>
</g>
<g id="xtick_28">
<g id="line2d_44">
<path d="M 410.071066 214.77287 
L 410.071066 143.461565 
" clip-path="url(#p9fffee1bb5)" style="fill: none; stroke: #b0b0b0; stroke-width: 0.8; stroke-linecap: square"/>
</g>
<g id="line2d_45">
<g>
<use href="#m1504cfccaf" x="410.071066" y="214.77287" style="stroke: #000000; stroke-width: 0.8"/>
</g>
</g>
</g>
<g id="xtick_29">
<g id="line2d_46">
<path d="M 504.48731 214.77287 
L 504.48731 143.461565 
" clip-path="url(#p9fffee1bb5)" style="fill: none; stroke: #b0b0b0; stroke-width: 0.8; stroke-linecap: square"/>
</g>
<g id="line2d_47">
<g>
<use href="#m1504cfccaf" x="504.48731" y="214.77287" style="stroke: #000000; stroke-width: 0.8"/>
</g>
</g>
</g>
<g id="xtick_30">
<g id="line2d_48">
<path d="M 598.903553 214.77287 
L 598.903553 143.461565 
" clip-path="url(#p9fffee1bb5)" style="fill: none; stroke: #b0b0b0; stroke-width: 0.8; stroke-linecap: square"/>
</g>
<g id="line2d_49">
<g>
<use href="#m1504cfccaf" x="598.903553" y="214.77287" style="stroke: #000000; stroke-width: 0.8"/>
</g>
</g>
</g>
<g id="xtick_31">
<g id="line2d_50">
<g>
<use href="#m05db3bdf9b" x="103.218274" y="214.77287" style="stroke: #000000; stroke-width: 0.6"/>
</g>
</g>
</g>
<g id="xtick_32">
<g id="line2d_51">
<g>
<use href="#m05db3bdf9b" x="150.426396" y="214.77287" style="stroke: #000000; stroke-width: 0.6"/>
</g>
</g>
</g>
<g id="xtick_33">
<g id="line2d_52">
<g>
<use href="#m05db3bdf9b" x="174.030457" y="214.77287" style="stroke: #000000; stroke-width: 0.6"/>
</g>
</g>
</g>
<g id="xtick_34">
<g id="line2d_53">
<g>
<use href="#m05db3bdf9b" x="197.634518" y="214.77287" style="stroke: #000000; stroke-width: 0.6"/>
</g>
</g>
</g>
<g id="xtick_35">
<g id="line2d_54">
<g>
<use href="#m05db3bdf9b" x="244.84264" y="214.77287" style="stroke: #000000; stroke-width: 0.6"/>
</g>
</g>
</g>
<g id="xtick_36">
<g id="line2d_55">
<g>
<use href="#m05db3bdf9b" x="268.446701" y="214.77287" style="stroke: #000000; stroke-width: 0.6"/>
</g>
</g>
</g>
<g id="xtick_37">
<g id="line2d_56">
<g>
<use href="#m05db3bdf9b" x="292.050761" y="214.77287" style="stroke: #000000; stroke-width: 0.6"/>
</g>
</g>
</g>
<g id="xtick_38">
<g id="line2d_57">
<g>
<use href="#m05db3bdf9b" x="339.258883" y="214.77287" style="stroke: #000000; stroke-width: 0.6"/>
</g>
</g>
</g>
<g id="xtick_39">
<g id="line2d_58">
<g>
<use href="#m05db3bdf9b" x="362.862944" y="214.77287" style="stroke: #000000; stroke-width: 0.6"/>
</g>
</g>
</g>
<g id="xtick_40">
<g id="line2d_59">
<g>
<use href="#m05db3bdf9b" x="386.467005" y="214.77287" style="stroke: #000000; stroke-width: 0.6"/>
</g>
</g>
</g>
<g id="xtick_41">
<g id="line2d_60">
<g>
<use href="#m05db3bdf9b" x="433.675127" y="214.77287" style="stroke: #000000; stroke-width: 0.6"/>
</g>
</g>
</g>
<g id="xtick_42">
<g id="line2d_61">
<g>
<use href="#m05db3bdf9b" x="457.279188" y="214.77287" style="stroke: #000000; stroke-width: 0.6"/>
</g>
</g>
</g>
<g id="xtick_43">
<g id="line2d_62">
<g>
<use href="#m05db3bdf9b" x="480.883249" y="214.77287" style="stroke: #000000; stroke-width: 0.6"/>
</g>
</g>
</g>
<g id="xtick_44">
<g id="line2d_63">
<g>
<use href="#m05db3bdf9b" x="528.091371" y="214.77287" style="stroke: #000000; stroke-width: 0.6"/>
</g>
</g>
</g>
<g id="xtick_45">
<g id="line2d_64">
<g>
<use href="#m05db3bdf9b" x="551.695431" y="214.77287" style="stroke: #000000; stroke-width: 0.6"/>
</g>
</g>
</g>
<g id="xtick_46">
<g id="line2d_65">
<g>
<use href="#m05db3bdf9b" x="575.299492" y="214.77287" style="stroke: #000000; stroke-width: 0.6"/>
</g>
</g>
</g>
<g id="xtick_47">
<g id="line2d_66">
<g>
<use href="#m05db3bdf9b" x="622.507614" y="214.77287" style="stroke: #000000; stroke-width: 0.6"/>
</g>
</g>
</g>
<g id="xtick_48">
<g id="line2d_67">
<g>
<use href="#m05db3bdf9b" x="646.111675" y="214.77287" style="stroke: #000000; stroke-width: 0.6"/>
</g>
</g>
</g>
</g>
<g id="matplotlib.axis_4">
<g id="ytick_3">
<g id="line2d_68">
<path d="M 90 188.03113 
L 648 188.03113 
" clip-path="url(#p9fffee1bb5)" style="fill: none; stroke: #b0b0b0; stroke-width: 0.8; stroke-linecap: square"/>
</g>
<g id="line2d_69">
<g>
<use href="#m5d545ce8f8" x="90" y="188.03113" style="stroke: #000000; stroke-width: 0.8"/>
</g>
</g>
<g id="text_5" transform="translate(-0.1080 -0.1080)">
<!-- 0 -->
<g transform="translate(76.6375 191.830349) scale(0.1 -0.1)">
<use href="#DejaVuSans-30"/>
</g>
</g>
</g>
<g id="ytick_4">
<g id="line2d_70">
<path d="M 90 143.461565 
L 648 143.461565 
" clip-path="url(#p9fffee1bb5)" style="fill: none; stroke: #b0b0b0; stroke-width: 0.8; stroke-linecap: square"/>
</g>
<g id="line2d_71">
<g>
<use href="#m5d545ce8f8" x="90" y="143.461565" style="stroke: #000000; stroke-width: 0.8"/>
</g>
</g>
<g id="text_6" transform="translate(-0.1080 -0.1080)">
<!-- 5 -->
<g transform="translate(76.6375 147.260784) scale(0.1 -0.1)">
<use href="#DejaVuSans-35"/>
</g>
</g>
</g>
<g id="text_7" transform="translate(-0.1080 -0.1080)">
<!-- Log$_{10}$(P5 Rate) -->
<g transform="translate(70.1955 212.372217) rotate(-90) scale(0.09 -0.09)">
<use href="#DejaVuSans-4c" transform="translate(0 0.125)"/>
<use href="#DejaVuSans-6f" transform="translate(55.712891 0.125)"/>
<use href="#DejaVuSans-67" transform="translate(116.894531 0.125)"/>
<use href="#DejaVuSans-31" transform="translate(181.328125 -16.28125) scale(0.7)"/>
<use href="#DejaVuSans-30" transform="translate(225.864258 -16.28125) scale(0.7)"/>
<use href="#DejaVuSans-28" transform="translate(273.134766 0.125)"/>
<use href="#DejaVuSans-50" transform="translate(312.148438 0.125)"/>
<use href="#DejaVuSans-35" transform="translate(372.451172 0.125)"/>
<use href="#DejaVuSans-20" transform="translate(436.074219 0.125)"/>
<use href="#DejaVuSans-52" transform="translate(467.861328 0.125)"/>
<use href="#DejaVuSans-61" transform="translate(537.34375 0.125)"/>
<use href="#DejaVuSans-74" transform="translate(598.623047 0.125)"/>
<use href="#DejaVuSans-65" transform="translate(637.832031 0.125)"/>
<use href="#DejaVuSans-29" transform="translate(699.355469 0.125)"/>
</g>
</g>
</g>
<g transform="translate(-0.1080 -0.1080) scale(0.24)"><defs><clipPath id="cd1"><rect x="375.00" y="597.76" width="2325.00" height="297.13"/></clipPath></defs><g clip-path="url(#cd1)"><polyline transform="translate(.5 .5)" fill="none" stroke="none" marker-start="url(#mk)" marker-mid="url(#mk)" marker-end="url(#mk)" points="480,828 482,827 483,826 484,828 486,827 487,827 488,826 490,830 491,834 492,825 494,823 495,827 497,831 498,834 499,822 501,825 502,828 503,822 505,828 506,824 507,830 509,827 510,826 512,829 513,832 514,827 516,828 517,834 518,832 520,829 521,835 523,838 524,829 525,834 527,836 528,830 529,842 531,829 532,830 533,832 535,837 536,828 538,834 539,828 540,831 542,828 543,828 544,831 546,830 547,830 548,834 550,830 551,834 553,830 554,826 555,829 557,834 558,826 559,828 561,829 562,830 563,824 565,832 566,831 568,831 569,827 570,832 572,828 573,826 574,827 576,832 577,833 579,829 580,834 581,820 583,829 584,828 585,829 587,827 588,828 589,824 591,824 592,829 594,830 595,831 596,824 598,832 599,828 600,824 602,829 603,824 604,827 606,828 607,828 609,830 610,826 611,833 613,831 614,831 615,825 617,828 618,837 619,836 621,827 622,833 624,829 625,828 626,838 628,834 629,833 630,837 632,830 633,828 635,829 636,834 637,834 639,836 640,832 641,834 643,829 644,834 645,830 647,833 648,827 650,829 651,837 652,833 654,831 655,836 656,834 658,837 659,833 660,832 662,836 663,832 665,833 666,829 667,831 669,830 670,834 671,841 673,834 674,833 676,832 677,837 678,838 680,836 681,838 682,833 684,837 685,837 686,840 688,841 689,828 691,840 692,831 693,833 695,829 696,836 697,834 699,834 700,834 701,834 703,837 704,837 706,829 707,834 708,835 710,833 711,834 712,834 714,837 715,838 716,834 718,834 719,835 721,834 722,833 723,834 725,834 726,834 727,840 729,835 730,838 732,834 733,842 734,835 736,844 737,834 738,835 740,834 741,841 742,837 744,837 745,831 747,833 748,837 749,837 751,837 752,840 753,834 755,833 756,830 757,838 759,833 760,841 762,829 763,838 764,836 766,838 767,844 768,832 770,841 771,830 772,836 774,844 775,834 777,834 778,829 779,833 781,835 782,836 783,835 785,834 786,834 788,830 789,834 790,827 792,838 793,831 794,834 796,831 797,840 798,838 800,835 801,830 803,834 804,836 805,837 807,841 808,832 809,834 811,827 812,835 813,829 815,830 816,828 818,837 819,828 820,830 822,844 823,841 824,837 826,834 827,835 828,830 830,833 831,834 833,836 834,834 835,838 837,836 838,837 839,832 841,834 842,834 844,834 845,830 846,834 848,835 849,833 850,830 852,840 853,836 854,840 856,833 857,841 859,836 860,832 861,828 863,830 864,834 865,835 867,829 868,828 869,834 871,827 872,831 874,836 875,831 876,828 878,828 879,834 880,829 882,827 883,832 884,833 886,830 887,832 889,832 890,828 891,831 893,826 894,828 895,829 897,826 898,822 900,823 901,822 902,826 904,828 905,822 906,824 908,823 909,822 910,823 912,815 913,821 915,823 916,821 917,819 919,821 920,819 921,823 923,824 924,824 925,822 927,820 928,824 930,819 931,818 932,820 934,821 935,821 936,823 938,826 939,829 941,827 942,829 943,828 945,822 946,824 947,824 949,827 950,829 951,829 953,825 954,827 956,825 957,825 958,822 960,818 961,826 962,825 964,822 965,820 966,816 968,825 969,815 971,820 972,817 973,818 975,818 976,818 977,820 979,823 980,818 981,819 983,820 984,817 986,815 987,816 988,815 990,815 991,815 992,815 994,819 995,817 997,815 998,816 999,815 1001,820 1002,814 1003,818 1005,812 1006,814 1007,816 1009,816 1010,812 1012,815 1013,814 1014,815 1016,815 1017,812 1018,811 1020,817 1021,811 1022,813 1024,813 1025,814 1027,810 1028,814 1029,813 1031,814 1032,814 1033,810 1035,817 1036,814 1037,811 1039,813 1040,813 1042,812 1043,811 1044,809 1046,806 1047,806 1048,806 1050,802 1051,804 1053,801 1054,805 1055,802 1057,800 1058,803 1059,803 1061,800 1062,802 1063,804 1065,803 1066,805 1068,803 1069,800 1070,803 1072,802 1073,803 1074,804 1076,804 1077,803 1078,802 1080,801 1081,801 1083,804 1084,802 1085,801 1087,804 1088,804 1089,803 1091,802 1092,801 1093,807 1095,804 1096,804 1098,802 1099,802 1100,803 1102,803 1103,808 1104,808 1106,807 1107,804 1109,805 1110,809 1111,810 1113,810 1114,810 1115,811 1117,811 1118,807 1119,809 1121,807 1122,805 1124,810 1125,806 1126,806 1128,806 1129,809 1130,809 1132,813 1133,806 1134,809 1136,810 1137,808 1139,809 1140,808 1141,809 1143,813 1144,808 1145,808 1147,812 1148,813 1149,809 1151,806 1152,811 1154,807 1155,813 1156,814 1158,814 1159,818 1160,811 1162,815 1163,811 1165,812 1166,813 1167,813 1169,814 1170,814 1171,816 1173,813 1174,812 1175,818 1177,817 1178,816 1180,814 1181,819 1182,819 1184,814 1185,812 1186,815 1188,816 1189,822 1190,819 1192,821 1193,819 1195,823 1196,821 1197,814 1199,818 1200,820 1201,817 1203,814 1204,821 1206,821 1207,821 1208,815 1210,818 1211,822 1212,821 1214,820 1215,828 1216,815 1218,817 1219,823 1221,822 1222,823 1223,818 1225,821 1226,821 1227,818 1229,824 1230,819 1231,816 1233,823 1234,817 1236,818 1237,817 1238,820 1240,826 1241,822 1242,822 1244,826 1245,825 1246,823 1248,822 1249,821 1251,824 1252,824 1253,825 1255,822 1256,821 1257,822 1259,823 1260,830 1262,822 1263,826 1264,822 1266,826 1267,819 1268,819 1270,824 1271,824 1272,820 1274,824 1275,822 1277,820 1278,825 1279,825 1281,822 1282,823 1283,825 1285,825 1286,827 1287,831 1289,826 1290,825 1292,834 1293,828 1294,827 1296,834 1297,827 1298,827 1300,830 1301,828 1302,827 1304,827 1305,832 1307,825 1308,823 1309,827 1311,826 1312,824 1313,827 1315,826 1316,825 1318,828 1319,828 1320,825 1322,828 1323,826 1324,833 1326,834 1327,832 1328,827 1330,835 1331,829 1333,825 1334,830 1335,828 1337,832 1338,836 1339,833 1341,830 1342,834 1343,827 1345,842 1346,829 1348,829 1349,832 1350,837 1352,835 1353,836 1354,844 1356,838 1357,840 1358,841 1360,859 1361,842 1363,847 1364,835 1365,837 1367,835 1368,834 1369,841 1371,836 1372,838 1374,831 1375,832 1376,834 1378,837 1379,847 1380,830 1382,833 1383,842 1384,850 1386,836 1387,834 1389,833 1390,844 1391,846 1393,837 1394,847 1395,838 1397,844 1398,847 1399,847 1401,842 1402,852 1404,863 1405,846 1406,847 1408,841 1409,841 1410,855 1412,859 1413,846 1414,847 1416,847 1417,847 1419,842 1420,844 1421,859 1423,842 1424,870 1425,852 1427,844 1428,850 1430,840 1431,847 1432,847 1434,842 1435,846 1436,838 1438,841 1439,844 1440,847 1442,846 1443,844 1445,855 1446,841 1447,844 1449,847 1450,844 1451,846 1453,850 1454,841 1455,837 1457,846 1458,842 1460,846 1461,844 1462,846 1464,846 1465,844 1466,847 1468,852 1469,844 1470,852 1472,841 1473,846 1475,850 1476,850 1477,846 1479,855 1480,859 1481,846 1483,850 1484,847 1486,852 1487,852 1488,852 1490,855 1491,847 1492,863 1494,859 1495,852 1496,859 1498,852 1499,870 1501,863 1502,870 1503,844 1505,863 1506,847 1507,852 1509,846 1510,850 1511,852 1513,850 1514,852 1516,855 1517,850 1518,863 1520,870 1521,852 1522,859 1524,870 1525,859 1527,846 1528,859 1529,840 1531,855 1532,844 1533,847 1535,855 1536,855 1537,855 1539,855 1540,850 1542,844 1543,859 1544,859 1546,844 1547,852 1548,859 1550,870 1551,855 1552,842 1554,847 1555,855 1557,870 1558,852 1559,846 1561,870 1562,855 1563,847 1565,847 1566,870 1567,863 1569,844 1570,859 1572,859 1573,847 1574,863 1576,846 1577,850 1578,855 1580,846 1581,850 1583,850 1584,844 1585,855 1587,859 1588,863 1589,850 1591,846 1592,855 1593,855 1595,855 1596,850 1598,855 1599,855 1600,847 1602,852 1603,852 1604,855 1606,859 1607,847 1608,847 1610,846 1611,847 1613,852 1614,855 1615,859 1617,850 1618,863 1619,863 1621,859 1622,852 1623,844 1625,844 1626,859 1628,852 1629,855 1630,855 1632,840 1633,855 1634,859 1636,842 1637,846 1639,859 1640,859 1641,852 1643,852 1644,847 1645,852 1647,852 1648,852 1649,870 1651,846 1652,859 1654,863 1655,870 1656,863 1658,838 1659,855 1660,855 1662,850 1663,852 1664,847 1666,870 1667,870 1669,859 1670,844 1671,870 1673,855 1675,870 1677,852 1678,852 1679,846 1681,855 1682,850 1684,847 1685,870 1686,870 1688,852 1689,852 1690,850 1692,859 1693,850 1695,859 1696,855 1697,863 1699,850 1700,852 1701,855 1703,859 1704,870 1705,859 1707,852 1708,855 1710,859 1711,855 1712,855 1714,852 1715,881 1716,855 1718,881 1719,870 1720,881 1722,852 1723,859 1725,859 1726,847 1727,859 1729,870 1730,855 1731,881 1733,852 1734,881 1735,850 1737,863 1738,850 1740,870 1741,870 1742,859 1744,863 1745,850 1746,847 1748,850 1749,863 1751,842 1752,859 1753,863 1755,855 1756,863 1757,859 1759,852 1760,855 1761,863 1763,855 1764,855 1766,863 1767,855 1768,870 1770,855 1771,863 1772,855 1774,855 1775,855 1776,870 1778,863 1779,859 1781,863 1782,852 1783,859 1785,852 1786,859 1787,859 1789,870 1790,855 1793,859 1794,855 1796,859 1797,855 1798,881 1800,852 1801,870 1802,863 1804,870 1805,859 1807,870 1808,870 1809,870 1811,870 1812,855 1813,870 1815,870 1816,859 1817,863 1819,850 1820,859 1822,859 1823,881 1824,855 1827,855 1828,863 1830,855 1831,863 1832,847 1834,881 1835,855 1837,852 1838,859 1839,859 1841,863 1842,855 1843,852 1845,850 1846,863 1848,863 1849,859 1850,852 1852,870 1853,855 1854,859 1856,850 1857,859 1858,855 1860,855 1861,859 1863,852 1864,859 1865,870 1867,850 1868,859 1869,852 1872,863 1873,855 1875,855 1876,850 1878,859 1879,863 1880,850 1882,855 1883,859 1884,859 1886,855 1887,863 1888,855 1890,863 1891,859 1893,859 1894,855 1895,863 1897,852 1898,870 1899,847 1901,859 1902,846 1904,855 1905,859 1906,855 1908,855 1909,863 1910,855 1912,859 1913,881 1914,855 1916,870 1917,850 1919,855 1920,855 1921,859 1923,870 1924,859 1925,870 1927,870 1928,841 1929,855 1931,852 1932,847 1934,855 1935,855 1936,855 1938,852 1939,852 1940,855 1942,852 1943,842 1944,855 1946,863 1947,852 1949,852 1950,859 1951,855 1953,855 1954,855 1955,863 1957,859 1958,870 1960,863 1961,852 1962,863 1964,852 1965,881 1966,870 1968,870 1969,859 1970,850 1972,870 1973,863 1975,855 1976,870 1977,850 1979,852 1980,847 1981,863 1983,863 1984,863 1985,855 1987,855 1988,855 1990,859 1991,863 1992,870 1994,855 1995,881 1996,859 1998,852 1999,847 2000,881 2002,852 2003,855 2005,855 2006,863 2007,863 2009,859 2010,859 2011,847 2013,870 2014,859 2016,859 2017,855 2018,870 2020,852 2021,846 2022,855 2024,863 2025,852 2026,852 2028,850 2029,859 2031,859 2032,859 2033,859 2035,850 2036,852 2037,859 2039,863 2040,859 2041,859 2043,855 2044,855 2046,870 2047,850 2048,863 2050,859 2051,844 2052,863 2054,855 2055,855 2057,852 2058,881 2059,855 2061,870 2062,863 2063,863 2065,859 2066,852 2067,850 2069,870 2070,852 2072,863 2073,863 2074,846 2076,855 2077,852 2078,855 2080,844 2081,881 2082,852 2084,859 2085,863 2087,846 2088,855 2089,855 2091,847 2092,846 2093,863 2095,850 2096,859 2097,855 2099,855 2100,870 2102,855 2103,859 2104,855 2106,855 2107,855 2108,844 2110,852 2111,859 2113,859 2114,847 2115,870 2117,870 2118,859 2119,881 2121,846 2122,859 2123,855 2125,846 2126,859 2128,859 2129,859 2132,863 2133,852 2134,846 2136,863 2137,852 2138,863 2141,855 2143,855 2144,859 2145,850 2147,855 2148,852 2149,852 2151,855 2152,855 2153,859 2155,859 2156,855 2158,870 2159,863 2160,863 2162,855 2163,852 2164,863 2166,852 2167,846 2169,850 2170,859 2171,855 2173,850 2174,855 2175,863 2177,846 2178,859 2179,852 2181,850 2182,870 2184,870 2185,855 2186,859 2188,863 2189,863 2190,859 2192,859 2193,870 2194,870 2196,846 2197,852 2199,855 2200,859 2201,852 2203,855 2204,846 2205,863 2207,852 2208,859 2209,881 2211,852 2212,870 2214,863 2215,855 2216,863 2218,859 2219,881 2220,863 2222,846 2223,870 2225,855 2226,881 2227,855 2229,852 2230,852 2231,859 2233,863 2234,852 2235,863 2237,859 2238,863 2240,855 2241,855 2242,863 2244,859 2245,850 2246,855 2248,847 2249,852 2250,846 2252,852 2253,863 2255,859 2256,863 2257,859 2259,852 2260,863 2261,863 2263,850 2264,881 2265,863 2267,852 2268,850 2270,850 2271,863 2272,847 2274,855 2275,863 2276,863 2278,863 2279,847 2281,850 2282,855 2283,855 2285,852 2286,852 2287,870 2289,850 2290,855 2291,859 2293,855 2294,850 2296,859 2297,881 2298,850 2300,863 2301,852 2302,863 2304,870 2305,870 2306,855 2308,863 2309,855 2311,859 2312,859 2313,859 2315,870 2316,881 2317,855 2319,863 2320,881 2322,852 2323,855 2324,855 2326,847 2327,855 2328,863 2330,863 2331,870 2332,846 2334,859 2335,859 2337,855 2338,863 2339,850 2341,850 2342,863 2343,855 2345,855 2346,855 2347,855 2349,847 2350,852 2352,859 2353,863 2354,870 2356,859 2357,852 2358,850 2360,847 2361,852 2362,855 2364,850 2365,852 2367,850 2368,850 2369,859 2371,859 2372,850 2373,852 2375,859 2376,863 2378,852 2379,850 2380,859 2382,844 2383,859 2384,846 2386,852 2387,850 2388,850 2390,850 2391,881 2393,859 2394,863 2395,863 2397,859 2398,855 2399,844 2401,855 2402,859 2403,847 2405,870 2406,855 2408,847 2409,846 2410,847 2412,847 2413,847 2414,842 2416,859 2417,870 2418,881 2420,859 2421,859 2423,855 2424,859 2425,859 2427,852 2428,852 2429,850 2431,859 2432,859 2434,846 2435,870 2436,855 2438,863 2439,855 2440,863 2442,852 2443,847 2444,850 2446,850 2447,852 2449,855 2450,855 2451,842 2453,852 2454,850 2455,870 2457,859 2458,847 2459,846 2461,847 2462,859 2464,852 2465,859 2466,863 2468,859 2469,859 2470,852 2472,855 2473,863 2474,847 2476,870 2477,859 2479,863 2480,850 2481,859 2483,846 2484,852 2485,855 2487,859 2488,855 2490,863 2492,850 2495,859 2496,870 2498,870 2499,850 2500,870 2502,859 2503,870 2505,855 2506,855 2507,863 2509,859 2510,863 2511,847 2514,859 2515,852 2517,859 2518,870 2520,859 2521,855 2522,859 2524,855 2525,855 2526,847 2528,847 2529,844 2530,863 2532,847 2533,852 2535,847 2536,859 2537,870 2539,852 2540,859 2541,847 2543,850 2544,859 2546,859 2547,863 2548,859 2550,855 2551,870 2552,852 2554,852 2555,863 2556,859 2558,852 2559,870 2561,863 2562,859 2563,842 2565,855 2566,863 2567,847 2569,859 2570,863 2571,881 2573,850 2574,850 2576,852 2577,859 2578,855 2580,852 2581,859 2582,859 2584,852 2585,859 2587,863 2588,842 2589,859 2591,863 2592,847 2593,859"/></g></g>
<g id="VL1">
<path d="M 304.248 214.77287 
L 304.248 143.461565 
" clip-path="url(#p9fffee1bb5)" style="fill: none; stroke: #ff0000; stroke-width: 2; stroke-linecap: square"/>
</g>
<g id="line2d_72">
<path d="M 445.896 214.77287 
L 445.896 143.461565 
" clip-path="url(#p9fffee1bb5)" style="fill: none; stroke: #ff0000; stroke-width: 2; stroke-linecap: square"/>
</g>
<g id="line2d_73">
<path d="M 136.224 214.77287 
L 196.752 214.77287 
" clip-path="url(#p9fffee1bb5)" style="fill: none; stroke: #800080; stroke-width: 8"/>
</g>
<g id="line2d_74">
<path d="M 395.472 214.77287 
L 448.2 214.77287 
" clip-path="url(#p9fffee1bb5)" style="fill: none; stroke: #800080; stroke-width: 8"/>
</g>
<g id="patch_8">
<path d="M 90 214.77287 
L 90 143.461565 
" style="fill: none; stroke: #000000; stroke-width: 0.8; stroke-linejoin: miter; stroke-linecap: square"/>
</g>
<g id="patch_9">
<path d="M 648 214.77287 
L 648 143.461565 
" style="fill: none; stroke: #000000; stroke-width: 0.8; stroke-linejoin: miter; stroke-linecap: square"/>
</g>
<g id="patch_10">
<path d="M 90 214.77287 
L 648 214.77287 
" style="fill: none; stroke: #000000; stroke-width: 0.8; stroke-linejoin: miter; stroke-linecap: square"/>
</g>
<g id="patch_11">
<path d="M 90 143.461565 
L 648 143.461565 
" style="fill: none; stroke: #000000; stroke-width: 0.8; stroke-linejoin: miter; stroke-linecap: square"/>
</g>
<g id="text_8" transform="translate(-0.1080 -0.1080)">
<!-- Interruption -->
<g style="fill: #ff0000" transform="translate(307.872 152.375478) scale(0.1 -0.1)">
<use href="#DejaVuSans-49"/>
<use href="#DejaVuSans-6e" transform="translate(29.492188 0)"/>
<use href="#DejaVuSans-74" transform="translate(92.871094 0)"/>
<use href="#DejaVuSans-65" transform="translate(132.080078 0)"/>
<use href="#DejaVuSans-72" transform="translate(193.603516 0)"/>
<use href="#DejaVuSans-72" transform="translate(232.966797 0)"/>
<use href="#DejaVuSans-75" transform="translate(274.080078 0)"/>
<use href="#DejaVuSans-70" transform="translate(337.458984 0)"/>
<use href="#DejaVuSans-74" transform="translate(400.935547 0)"/>
<use href="#DejaVuSans-69" transform="translate(440.144531 0)"/>
<use href="#DejaVuSans-6f" transform="translate(467.927734 0)"/>
<use href="#DejaVuSans-6e" transform="translate(529.109375 0)"/>
</g>
</g>
</g>
<g id="axes_3">
<g id="patch_12">
<path d="M 90 300.346435 
L 648 300.346435 
L 648 229.03513 
L 90 229.03513 
z
" style="fill: #ffffff"/>
</g>
<g id="matplotlib.axis_5">
<g id="xtick_49">
<g id="line2d_75">
<path d="M 126.822335 300.346435 
L 126.822335 229.03513 
" clip-path="url(#p0b8de6dfa9)" style="fill: none; stroke: #b0b0b0; stroke-width: 0.8; stroke-linecap: square"/>
</g>
<g id="line2d_76">
<g>
<use href="#m1504cfccaf" x="126.822335" y="300.346435" style="stroke: #000000; stroke-width: 0.8"/>
</g>
</g>
</g>
<g id="xtick_50">
<g id="line2d_77">
<path d="M 221.238579 300.346435 
L 221.238579 229.03513 
" clip-path="url(#p0b8de6dfa9)" style="fill: none; stroke: #b0b0b0; stroke-width: 0.8; stroke-linecap: square"/>
</g>
<g id="line2d_78">
<g>
<use href="#m1504cfccaf" x="221.238579" y="300.346435" style="stroke: #000000; stroke-width: 0.8"/>
</g>
</g>
</g>
<g id="xtick_51">
<g id="line2d_79">
<path d="M 315.654822 300.346435 
L 315.654822 229.03513 
" clip-path="url(#p0b8de6dfa9)" style="fill: none; stroke: #b0b0b0; stroke-width: 0.8; stroke-linecap: square"/>
</g>
<g id="line2d_80">
<g>
<use href="#m1504cfccaf" x="315.654822" y="300.346435" style="stroke: #000000; stroke-width: 0.8"/>
</g>
</g>
</g>
<g id="xtick_52">
<g id="line2d_81">
<path d="M 410.071066 300.346435 
L 410.071066 229.03513 
" clip-path="url(#p0b8de6dfa9)" style="fill: none; stroke: #b0b0b0; stroke-width: 0.8; stroke-linecap: square"/>
</g>
<g id="line2d_82">
<g>
<use href="#m1504cfccaf" x="410.071066" y="300.346435" style="stroke: #000000; stroke-width: 0.8"/>
</g>
</g>
</g>
<g id="xtick_53">
<g id="line2d_83">
<path d="M 504.48731 300.346435 
L 504.48731 229.03513 
" clip-path="url(#p0b8de6dfa9)" style="fill: none; stroke: #b0b0b0; stroke-width: 0.8; stroke-linecap: square"/>
</g>
<g id="line2d_84">
<g>
<use href="#m1504cfccaf" x="504.48731" y="300.346435" style="stroke: #000000; stroke-width: 0.8"/>
</g>
</g>
</g>
<g id="xtick_54">
<g id="line2d_85">
<path d="M 598.903553 300.346435 
L 598.903553 229.03513 
" clip-path="url(#p0b8de6dfa9)" style="fill: none; stroke: #b0b0b0; stroke-width: 0.8; stroke-linecap: square"/>
</g>
<g id="line2d_86">
<g>
<use href="#m1504cfccaf" x="598.903553" y="300.346435" style="stroke: #000000; stroke-width: 0.8"/>
</g>
</g>
</g>
<g id="xtick_55">
<g id="line2d_87">
<g>
<use href="#m05db3bdf9b" x="103.218274" y="300.346435" style="stroke: #000000; stroke-width: 0.6"/>
</g>
</g>
</g>
<g id="xtick_56">
<g id="line2d_88">
<g>
<use href="#m05db3bdf9b" x="150.426396" y="300.346435" style="stroke: #000000; stroke-width: 0.6"/>
</g>
</g>
</g>
<g id="xtick_57">
<g id="line2d_89">
<g>
<use href="#m05db3bdf9b" x="174.030457" y="300.346435" style="stroke: #000000; stroke-width: 0.6"/>
</g>
</g>
</g>
<g id="xtick_58">
<g id="line2d_90">
<g>
<use href="#m05db3bdf9b" x="197.634518" y="300.346435" style="stroke: #000000; stroke-width: 0.6"/>
</g>
</g>
</g>
<g id="xtick_59">
<g id="line2d_91">
<g>
<use href="#m05db3bdf9b" x="244.84264" y="300.346435" style="stroke: #000000; stroke-width: 0.6"/>
</g>
</g>
</g>
<g id="xtick_60">
<g id="line2d_92">
<g>
<use href="#m05db3bdf9b" x="268.446701" y="300.346435" style="stroke: #000000; stroke-width: 0.6"/>
</g>
</g>
</g>
<g id="xtick_61">
<g id="line2d_93">
<g>
<use href="#m05db3bdf9b" x="292.050761" y="300.346435" style="stroke: #000000; stroke-width: 0.6"/>
</g>
</g>
</g>
<g id="xtick_62">
<g id="line2d_94">
<g>
<use href="#m05db3bdf9b" x="339.258883" y="300.346435" style="stroke: #000000; stroke-width: 0.6"/>
</g>
</g>
</g>
<g id="xtick_63">
<g id="line2d_95">
<g>
<use href="#m05db3bdf9b" x="362.862944" y="300.346435" style="stroke: #000000; stroke-width: 0.6"/>
</g>
</g>
</g>
<g id="xtick_64">
<g id="line2d_96">
<g>
<use href="#m05db3bdf9b" x="386.467005" y="300.346435" style="stroke: #000000; stroke-width: 0.6"/>
</g>
</g>
</g>
<g id="xtick_65">
<g id="line2d_97">
<g>
<use href="#m05db3bdf9b" x="433.675127" y="300.346435" style="stroke: #000000; stroke-width: 0.6"/>
</g>
</g>
</g>
<g id="xtick_66">
<g id="line2d_98">
<g>
<use href="#m05db3bdf9b" x="457.279188" y="300.346435" style="stroke: #000000; stroke-width: 0.6"/>
</g>
</g>
</g>
<g id="xtick_67">
<g id="line2d_99">
<g>
<use href="#m05db3bdf9b" x="480.883249" y="300.346435" style="stroke: #000000; stroke-width: 0.6"/>
</g>
</g>
</g>
<g id="xtick_68">
<g id="line2d_100">
<g>
<use href="#m05db3bdf9b" x="528.091371" y="300.346435" style="stroke: #000000; stroke-width: 0.6"/>
</g>
</g>
</g>
<g id="xtick_69">
<g id="line2d_101">
<g>
<use href="#m05db3bdf9b" x="551.695431" y="300.346435" style="stroke: #000000; stroke-width: 0.6"/>
</g>
</g>
</g>
<g id="xtick_70">
<g id="line2d_102">
<g>
<use href="#m05db3bdf9b" x="575.299492" y="300.346435" style="stroke: #000000; stroke-width: 0.6"/>
</g>
</g>
</g>
<g id="xtick_71">
<g id="line2d_103">
<g>
<use href="#m05db3bdf9b" x="622.507614" y="300.346435" style="stroke: #000000; stroke-width: 0.6"/>
</g>
</g>
</g>
<g id="xtick_72">
<g id="line2d_104">
<g>
<use href="#m05db3bdf9b" x="646.111675" y="300.346435" style="stroke: #000000; stroke-width: 0.6"/>
</g>
</g>
</g>
</g>
<g id="matplotlib.axis_6">
<g id="ytick_5">
<g id="line2d_105">
<path d="M 90 273.604696 
L 648 273.604696 
" clip-path="url(#p0b8de6dfa9)" style="fill: none; stroke: #b0b0b0; stroke-width: 0.8; stroke-linecap: square"/>
</g>
<g id="line2d_106">
<g>
<use href="#m5d545ce8f8" x="90" y="273.604696" style="stroke: #000000; stroke-width: 0.8"/>
</g>
</g>
<g id="text_9" transform="translate(-0.1080 -0.1080)">
<!-- 0 -->
<g transform="translate(76.6375 277.403914) scale(0.1 -0.1)">
<use href="#DejaVuSans-30"/>
</g>
</g>
</g>
<g id="ytick_6">
<g id="line2d_107">
<path d="M 90 229.03513 
L 648 229.03513 
" clip-path="url(#p0b8de6dfa9)" style="fill: none; stroke: #b0b0b0; stroke-width: 0.8; stroke-linecap: square"/>
</g>
<g id="line2d_108">
<g>
<use href="#m5d545ce8f8" x="90" y="229.03513" style="stroke: #000000; stroke-width: 0.8"/>
</g>
</g>
<g id="text_10" transform="translate(-0.1080 -0.1080)">
<!-- 5 -->
<g transform="translate(76.6375 232.834349) scale(0.1 -0.1)">
<use href="#DejaVuSans-35"/>
</g>
</g>
</g>
<g id="text_11" transform="translate(-0.1080 -0.1080)">
<!-- Log$_{10}$(P6 Rate) -->
<g transform="translate(70.1955 297.945783) rotate(-90) scale(0.09 -0.09)">
<defs>
<path id="DejaVuSans-36" d="M 2113 2584 
Q 1688 2584 1439 2293 
Q 1191 2003 1191 1497 
Q 1191 994 1439 701 
Q 1688 409 2113 409 
Q 2538 409 2786 701 
Q 3034 994 3034 1497 
Q 3034 2003 2786 2293 
Q 2538 2584 2113 2584 
z
M 3366 4563 
L 3366 3988 
Q 3128 4100 2886 4159 
Q 2644 4219 2406 4219 
Q 1781 4219 1451 3797 
Q 1122 3375 1075 2522 
Q 1259 2794 1537 2939 
Q 1816 3084 2150 3084 
Q 2853 3084 3261 2657 
Q 3669 2231 3669 1497 
Q 3669 778 3244 343 
Q 2819 -91 2113 -91 
Q 1303 -91 875 529 
Q 447 1150 447 2328 
Q 447 3434 972 4092 
Q 1497 4750 2381 4750 
Q 2619 4750 2861 4703 
Q 3103 4656 3366 4563 
z
" transform="scale(0.015625)"/>
</defs>
<use href="#DejaVuSans-4c" transform="translate(0 0.125)"/>
<use href="#DejaVuSans-6f" transform="translate(55.712891 0.125)"/>
<use href="#DejaVuSans-67" transform="translate(116.894531 0.125)"/>
<use href="#DejaVuSans-31" transform="translate(181.328125 -16.28125) scale(0.7)"/>
<use href="#DejaVuSans-30" transform="translate(225.864258 -16.28125) scale(0.7)"/>
<use href="#DejaVuSans-28" transform="translate(273.134766 0.125)"/>
<use href="#DejaVuSans-50" transform="translate(312.148438 0.125)"/>
<use href="#DejaVuSans-36" transform="translate(372.451172 0.125)"/>
<use href="#DejaVuSans-20" transform="translate(436.074219 0.125)"/>
<use href="#DejaVuSans-52" transform="translate(467.861328 0.125)"/>
<use href="#DejaVuSans-61" transform="translate(537.34375 0.125)"/>
<use href="#DejaVuSans-74" transform="translate(598.623047 0.125)"/>
<use href="#DejaVuSans-65" transform="translate(637.832031 0.125)"/>
<use href="#DejaVuSans-29" transform="translate(699.355469 0.125)"/>
</g>
</g>
</g>
<g transform="translate(-0.1080 -0.1080) scale(0.24)"><defs><clipPath id="cd2"><rect x="375.00" y="954.31" width="2325.00" height="297.13"/></clipPath></defs><g clip-path="url(#cd2)"><polyline transform="translate(.5 .5)" fill="none" stroke="none" marker-start="url(#mk)" marker-mid="url(#mk)" marker-end="url(#mk)" points="480,1212 482,1208 483,1210 484,1212 486,1222 487,1216 488,1216 490,1220 491,1215 492,1217 494,1219 495,1224 497,1214 498,1217 499,1212 501,1215 502,1220 503,1224 505,1228 506,1219 507,1219 509,1217 510,1216 512,1214 513,1231 514,1220 516,1231 517,1224 518,1222 520,1217 521,1219 523,1219 524,1228 525,1228 527,1231 528,1214 529,1220 531,1240 532,1228 533,1226 535,1224 536,1217 538,1217 539,1217 540,1219 542,1222 543,1219 544,1220 546,1216 547,1213 548,1217 550,1224 551,1215 553,1231 554,1231 555,1228 557,1224 558,1210 559,1219 561,1222 562,1219 563,1228 565,1224 566,1222 568,1224 569,1228 570,1231 572,1228 573,1226 574,1228 576,1228 577,1219 579,1220 580,1215 581,1231 583,1226 584,1214 585,1228 587,1217 588,1217 589,1219 591,1226 592,1231 594,1215 595,1219 596,1217 598,1224 599,1216 600,1219 602,1216 603,1226 604,1216 606,1219 607,1224 609,1228 610,1222 611,1219 613,1235 614,1231 615,1224 617,1220 618,1224 619,1231 621,1220 622,1228 624,1222 625,1224 626,1231 628,1240 629,1224 630,1231 632,1228 633,1224 635,1226 636,1235 637,1235 639,1246 640,1222 641,1217 643,1228 644,1226 645,1228 647,1220 648,1226 650,1220 651,1224 652,1235 654,1222 655,1235 656,1226 658,1235 659,1228 660,1240 662,1228 663,1231 665,1228 666,1246 667,1219 669,1231 670,1226 671,1226 673,1228 674,1228 676,1224 677,1231 678,1219 680,1228 681,1226 682,1224 684,1226 685,1228 686,1240 688,1226 689,1228 691,1226 692,1235 693,1231 695,1226 696,1226 697,1222 699,1226 700,1222 701,1226 703,1222 704,1231 706,1224 707,1224 708,1228 710,1224 711,1235 712,1235 714,1246 715,1231 716,1226 718,1240 719,1224 721,1228 722,1226 723,1235 725,1222 726,1235 727,1231 729,1226 730,1219 732,1226 733,1240 734,1240 736,1222 737,1217 738,1220 740,1219 741,1231 742,1224 744,1240 745,1246 747,1222 748,1235 749,1240 751,1231 752,1231 753,1231 755,1231 756,1226 757,1246 759,1228 760,1228 762,1224 763,1220 764,1222 766,1231 767,1235 768,1228 770,1228 771,1228 772,1226 774,1226 775,1220 777,1220 778,1226 779,1216 781,1222 782,1220 783,1220 785,1224 786,1220 788,1224 789,1220 790,1222 792,1222 793,1219 794,1224 796,1222 797,1222 798,1224 800,1228 801,1226 803,1228 804,1231 805,1228 807,1228 808,1217 809,1222 811,1226 812,1219 813,1226 815,1228 816,1219 818,1228 819,1235 820,1224 822,1240 823,1224 824,1240 826,1228 827,1226 828,1222 830,1240 831,1235 833,1235 834,1226 835,1228 837,1235 838,1224 839,1231 841,1240 842,1228 844,1240 845,1228 846,1222 848,1228 849,1224 850,1240 852,1226 854,1224 856,1228 857,1235 859,1231 860,1224 861,1226 863,1219 864,1222 865,1235 867,1235 868,1235 869,1231 871,1217 872,1246 874,1224 875,1240 876,1228 878,1231 879,1226 880,1222 882,1228 883,1228 884,1228 886,1224 887,1231 889,1224 890,1220 891,1220 893,1224 894,1228 895,1220 897,1220 898,1228 900,1228 901,1228 902,1231 904,1219 905,1226 906,1220 908,1235 909,1231 910,1226 912,1231 913,1246 915,1228 916,1235 917,1224 919,1222 920,1226 921,1228 923,1231 924,1228 925,1224 927,1220 928,1228 930,1226 931,1224 932,1226 934,1222 935,1222 938,1219 939,1222 941,1224 942,1246 943,1226 945,1224 946,1231 947,1235 949,1226 950,1231 951,1226 953,1222 954,1228 956,1240 957,1231 958,1246 960,1231 961,1224 962,1222 964,1240 965,1240 966,1228 968,1224 969,1235 971,1226 973,1240 975,1226 976,1226 977,1217 979,1220 980,1215 981,1216 983,1220 984,1235 986,1231 987,1220 988,1235 990,1222 991,1222 992,1228 994,1228 995,1222 997,1220 998,1226 999,1231 1001,1217 1002,1216 1003,1219 1005,1222 1006,1224 1007,1210 1009,1220 1010,1215 1012,1240 1013,1220 1014,1219 1016,1220 1017,1222 1018,1222 1020,1222 1021,1212 1022,1215 1024,1217 1025,1219 1027,1219 1028,1222 1029,1224 1031,1224 1032,1209 1033,1211 1035,1213 1036,1222 1037,1213 1039,1209 1040,1217 1042,1212 1043,1213 1044,1219 1046,1224 1047,1217 1048,1226 1050,1222 1051,1219 1053,1219 1054,1220 1055,1214 1057,1226 1058,1204 1059,1224 1061,1212 1062,1213 1063,1214 1065,1207 1066,1207 1068,1220 1069,1214 1070,1215 1072,1213 1073,1212 1074,1212 1076,1210 1077,1219 1078,1205 1080,1220 1081,1216 1083,1207 1084,1214 1085,1208 1087,1202 1088,1211 1089,1209 1091,1214 1092,1213 1093,1208 1095,1210 1096,1214 1098,1207 1099,1211 1100,1211 1102,1216 1103,1219 1104,1213 1106,1213 1107,1212 1109,1214 1110,1208 1111,1212 1113,1216 1114,1215 1115,1207 1117,1217 1118,1211 1119,1216 1121,1212 1122,1217 1124,1211 1125,1216 1126,1214 1128,1211 1129,1210 1130,1220 1132,1213 1133,1219 1134,1216 1136,1222 1137,1213 1139,1209 1140,1219 1141,1217 1143,1217 1144,1217 1145,1215 1147,1220 1148,1214 1149,1220 1151,1215 1152,1215 1154,1220 1155,1219 1156,1224 1158,1220 1159,1220 1160,1219 1162,1216 1163,1226 1165,1213 1166,1220 1167,1217 1169,1222 1170,1222 1171,1211 1173,1217 1174,1220 1175,1222 1177,1217 1178,1211 1180,1219 1181,1219 1182,1220 1184,1217 1185,1217 1186,1222 1188,1216 1189,1228 1190,1222 1192,1220 1193,1219 1195,1226 1196,1228 1197,1224 1199,1219 1200,1222 1201,1228 1203,1219 1204,1226 1206,1231 1207,1235 1208,1226 1210,1228 1211,1240 1212,1246 1214,1224 1215,1235 1216,1228 1218,1216 1219,1222 1221,1228 1222,1222 1223,1217 1225,1228 1226,1231 1227,1228 1229,1228 1230,1219 1231,1231 1233,1224 1234,1226 1236,1226 1237,1219 1238,1240 1240,1224 1241,1226 1242,1235 1244,1224 1245,1228 1246,1219 1248,1220 1249,1226 1251,1228 1252,1220 1253,1224 1255,1222 1256,1220 1257,1222 1259,1217 1260,1226 1262,1222 1263,1222 1264,1224 1266,1228 1267,1222 1268,1222 1270,1228 1271,1226 1272,1231 1274,1231 1275,1228 1277,1235 1278,1226 1279,1224 1281,1224 1282,1231 1283,1235 1285,1217 1286,1246 1287,1222 1289,1235 1290,1224 1292,1219 1293,1220 1294,1220 1296,1222 1297,1228 1298,1235 1300,1235 1301,1222 1302,1231 1304,1224 1305,1226 1307,1231 1308,1235 1309,1235 1311,1240 1312,1226 1313,1231 1315,1226 1316,1231 1318,1235 1319,1246 1320,1228 1322,1246 1323,1246 1324,1235 1326,1231 1327,1240 1328,1226 1330,1240 1331,1231 1333,1246 1334,1235 1335,1240 1337,1235 1338,1240 1339,1240 1341,1240 1343,1246 1345,1235 1352,1240 1353,1240 1358,1240 1363,1240 1371,1235 1372,1246 1374,1235 1375,1246 1378,1246 1380,1246 1389,1240 1398,1240 1401,1240 1405,1246 1406,1240 1410,1240 1413,1246 1414,1246 1419,1240 1420,1246 1427,1246 1428,1246 1430,1240 1434,1246 1438,1240 1442,1246 1445,1231 1446,1246 1449,1235 1451,1246 1454,1240 1455,1235 1457,1235 1470,1246 1472,1246 1473,1246 1477,1235 1479,1240 1487,1240 1491,1246 1494,1246 1498,1235 1501,1246 1502,1246 1506,1235 1507,1235 1509,1246 1510,1246 1511,1246 1513,1246 1514,1235 1517,1240 1518,1240 1520,1240 1524,1246 1531,1235 1532,1246 1533,1246 1540,1246 1542,1240 1546,1231 1551,1246 1552,1246 1555,1246 1558,1240 1570,1246 1573,1246 1578,1246 1584,1235 1585,1246 1593,1246 1595,1246 1602,1246 1603,1246 1607,1240 1608,1246 1610,1246 1613,1246 1614,1246 1615,1246 1617,1246 1618,1246 1619,1235 1623,1235 1630,1246 1633,1240 1634,1240 1639,1246 1648,1235 1649,1246 1656,1246 1664,1246 1666,1246 1667,1246 1677,1246 1682,1240 1685,1240 1686,1246 1695,1246 1696,1240 1703,1246 1704,1246 1705,1246 1712,1246 1716,1240 1720,1235 1723,1246 1725,1246 1730,1246 1731,1235 1737,1246 1738,1240 1741,1240 1742,1240 1744,1235 1749,1246 1757,1240 1759,1240 1764,1246 1768,1246 1771,1246 1772,1235 1782,1246 1783,1246 1787,1240 1790,1246 1794,1246 1797,1246 1798,1246 1800,1246 1804,1246 1813,1246 1816,1246 1822,1240 1823,1246 1827,1246 1835,1246 1837,1240 1839,1240 1843,1240 1848,1240 1849,1240 1850,1246 1852,1246 1854,1240 1860,1246 1868,1235 1880,1246 1882,1246 1886,1235 1894,1246 1897,1246 1898,1246 1906,1226 1914,1246 1923,1235 1927,1246 1932,1240 1934,1246 1935,1240 1936,1235 1940,1246 1947,1246 1949,1246 1950,1246 1953,1246 1954,1246 1955,1246 1960,1246 1961,1246 1962,1246 1968,1246 1970,1235 1998,1246 2002,1246 2003,1246 2005,1240 2022,1246 2026,1240 2029,1246 2039,1246 2047,1246 2052,1246 2055,1246 2057,1246 2058,1246 2061,1246 2063,1246 2065,1246 2069,1246 2070,1231 2073,1246 2081,1246 2082,1246 2084,1240 2088,1240 2092,1246 2095,1246 2096,1240 2108,1240 2111,1246 2114,1240 2115,1246 2117,1246 2122,1246 2123,1240 2132,1240 2133,1246 2134,1235 2136,1235 2137,1246 2138,1246 2140,1240 2143,1240 2145,1246 2152,1240 2153,1240 2156,1240 2166,1235 2167,1246 2170,1246 2175,1246 2181,1246 2185,1240 2188,1240 2190,1235 2193,1246 2194,1246 2199,1246 2203,1235 2205,1246 2207,1246 2208,1240 2209,1235 2211,1246 2216,1246 2220,1246 2226,1240 2233,1240 2237,1235 2238,1240 2240,1246 2252,1235 2257,1246 2260,1246 2261,1246 2264,1246 2265,1246 2268,1246 2272,1246 2275,1240 2276,1246 2278,1240 2279,1235 2282,1246 2283,1246 2286,1246 2291,1240 2296,1246 2301,1240 2313,1228 2317,1231 2320,1246 2323,1246 2324,1246 2331,1240 2332,1235 2335,1235 2339,1246 2343,1235 2346,1240 2347,1240 2354,1246 2358,1246 2360,1240 2362,1240 2364,1246 2369,1246 2379,1246 2380,1240 2382,1246 2383,1235 2386,1246 2391,1240 2393,1240 2395,1246 2399,1246 2401,1240 2403,1240 2405,1246 2408,1246 2410,1235 2412,1246 2414,1246 2423,1240 2424,1231 2427,1246 2434,1240 2436,1231 2438,1240 2447,1246 2449,1240 2450,1246 2451,1246 2454,1240 2457,1240 2458,1231 2461,1240 2465,1246 2470,1246 2474,1246 2479,1246 2481,1246 2487,1240 2488,1240 2490,1235 2498,1246 2500,1246 2503,1231 2506,1246 2509,1246 2510,1246 2511,1246 2515,1246 2525,1235 2528,1240 2529,1246 2537,1246 2541,1246 2543,1246 2544,1235 2548,1246 2550,1246 2551,1240 2552,1246 2558,1246 2567,1246 2569,1246 2577,1240 2587,1246 2588,1246 2591,1246"/></g></g>
<g id="VL2">
<path d="M 304.248 300.346435 
L 304.248 229.03513 
" clip-path="url(#p0b8de6dfa9)" style="fill: none; stroke: #ff0000; stroke-width: 2; stroke-linecap: square"/>
</g>
<g id="line2d_109">
<path d="M 445.896 300.346435 
L 445.896 229.03513 
" clip-path="url(#p0b8de6dfa9)" style="fill: none; stroke: #ff0000; stroke-width: 2; stroke-linecap: square"/>
</g>
<g id="line2d_110">
<path d="M 136.224 300.346435 
L 196.752 300.346435 
" clip-path="url(#p0b8de6dfa9)" style="fill: none; stroke: #800080; stroke-width: 8"/>
</g>
<g id="line2d_111">
<path d="M 395.472 300.346435 
L 448.2 300.346435 
" clip-path="url(#p0b8de6dfa9)" style="fill: none; stroke: #800080; stroke-width: 8"/>
</g>
<g id="patch_13">
<path d="M 90 300.346435 
L 90 229.03513 
" style="fill: none; stroke: #000000; stroke-width: 0.8; stroke-linejoin: miter; stroke-linecap: square"/>
</g>
<g id="patch_14">
<path d="M 648 300.346435 
L 648 229.03513 
" style="fill: none; stroke: #000000; stroke-width: 0.8; stroke-linejoin: miter; stroke-linecap: square"/>
</g>
<g id="patch_15">
<path d="M 90 300.346435 
L 648 300.346435 
" style="fill: none; stroke: #000000; stroke-width: 0.8; stroke-linejoin: miter; stroke-linecap: square"/>
</g>
<g id="patch_16">
<path d="M 90 229.03513 
L 648 229.03513 
" style="fill: none; stroke: #000000; stroke-width: 0.8; stroke-linejoin: miter; stroke-linecap: square"/>
</g>
<g id="text_12" transform="translate(-0.1080 -0.1080)">
<!-- Interruption -->
<g style="fill: #ff0000" transform="translate(307.872 237.949043) scale(0.1 -0.1)">
<use href="#DejaVuSans-49"/>
<use href="#DejaVuSans-6e" transform="translate(29.492188 0)"/>
<use href="#DejaVuSans-74" transform="translate(92.871094 0)"/>
<use href="#DejaVuSans-65" transform="translate(132.080078 0)"/>
<use href="#DejaVuSans-72" transform="translate(193.603516 0)"/>
<use href="#DejaVuSans-72" transform="translate(232.966797 0)"/>
<use href="#DejaVuSans-75" transform="translate(274.080078 0)"/>
<use href="#DejaVuSans-70" transform="translate(337.458984 0)"/>
<use href="#DejaVuSans-74" transform="translate(400.935547 0)"/>
<use href="#DejaVuSans-69" transform="translate(440.144531 0)"/>
<use href="#DejaVuSans-6f" transform="translate(467.927734 0)"/>
<use href="#DejaVuSans-6e" transform="translate(529.109375 0)"/>
</g>
</g>
</g>
<g id="axes_4">
<g id="patch_17">
<path d="M 90 385.92 
L 648 385.92 
L 648 314.608696 
L 90 314.608696 
z
" style="fill: #ffffff"/>
</g>
<g id="matplotlib.axis_7">
<g id="xtick_73">
<g id="line2d_112">
<path d="M 126.822335 385.92 
L 126.822335 314.608696 
" clip-path="url(#p39784f28c4)" style="fill: none; stroke: #b0b0b0; stroke-width: 0.8; stroke-linecap: square"/>
</g>
<g id="line2d_113">
<g>
<use href="#m1504cfccaf" x="126.822335" y="385.92" style="stroke: #000000; stroke-width: 0.8"/>
</g>
</g>
<g id="text_13" transform="translate(-0.1080 -0.1080)">
<!-- 2025:243 -->
<g transform="translate(84.294462 423.453565) rotate(-30) scale(0.1 -0.1)">
<defs>
<path id="DejaVuSans-32" d="M 1228 531 
L 3431 531 
L 3431 0 
L 469 0 
L 469 531 
Q 828 903 1448 1529 
Q 2069 2156 2228 2338 
Q 2531 2678 2651 2914 
Q 2772 3150 2772 3378 
Q 2772 3750 2511 3984 
Q 2250 4219 1831 4219 
Q 1534 4219 1204 4116 
Q 875 4013 500 3803 
L 500 4441 
Q 881 4594 1212 4672 
Q 1544 4750 1819 4750 
Q 2544 4750 2975 4387 
Q 3406 4025 3406 3419 
Q 3406 3131 3298 2873 
Q 3191 2616 2906 2266 
Q 2828 2175 2409 1742 
Q 1991 1309 1228 531 
z
" transform="scale(0.015625)"/>
<path id="DejaVuSans-3a" d="M 750 794 
L 1409 794 
L 1409 0 
L 750 0 
L 750 794 
z
M 750 3309 
L 1409 3309 
L 1409 2516 
L 750 2516 
L 750 3309 
z
" transform="scale(0.015625)"/>
<path id="DejaVuSans-33" d="M 2597 2516 
Q 3050 2419 3304 2112 
Q 3559 1806 3559 1356 
Q 3559 666 3084 287 
Q 2609 -91 1734 -91 
Q 1441 -91 1130 -33 
Q 819 25 488 141 
L 488 750 
Q 750 597 1062 519 
Q 1375 441 1716 441 
Q 2309 441 2620 675 
Q 2931 909 2931 1356 
Q 2931 1769 2642 2001 
Q 2353 2234 1838 2234 
L 1294 2234 
L 1294 2753 
L 1863 2753 
Q 2328 2753 2575 2939 
Q 2822 3125 2822 3475 
Q 2822 3834 2567 4026 
Q 2313 4219 1838 4219 
Q 1578 4219 1281 4162 
Q 984 4106 628 3988 
L 628 4550 
Q 988 4650 1302 4700 
Q 1616 4750 1894 4750 
Q 2613 4750 3031 4423 
Q 3450 4097 3450 3541 
Q 3450 3153 3228 2886 
Q 3006 2619 2597 2516 
z
" transform="scale(0.015625)"/>
</defs>
<use href="#DejaVuSans-32"/>
<use href="#DejaVuSans-30" transform="translate(63.623047 0)"/>
<use href="#DejaVuSans-32" transform="translate(127.246094 0)"/>
<use href="#DejaVuSans-35" transform="translate(190.869141 0)"/>
<use href="#DejaVuSans-3a" transform="translate(254.492188 0)"/>
<use href="#DejaVuSans-32" transform="translate(288.183594 0)"/>
<use href="#DejaVuSans-34" transform="translate(351.806641 0)"/>
<use href="#DejaVuSans-33" transform="translate(415.429688 0)"/>
</g>
</g>
</g>
<g id="xtick_74">
<g id="line2d_114">
<path d="M 221.238579 385.92 
L 221.238579 314.608696 
" clip-path="url(#p39784f28c4)" style="fill: none; stroke: #b0b0b0; stroke-width: 0.8; stroke-linecap: square"/>
</g>
<g id="line2d_115">
<g>
<use href="#m1504cfccaf" x="221.238579" y="385.92" style="stroke: #000000; stroke-width: 0.8"/>
</g>
</g>
<g id="text_14" transform="translate(-0.1080 -0.1080)">
<!-- 2025:244 -->
<g transform="translate(178.710705 423.453565) rotate(-30) scale(0.1 -0.1)">
<use href="#DejaVuSans-32"/>
<use href="#DejaVuSans-30" transform="translate(63.623047 0)"/>
<use href="#DejaVuSans-32" transform="translate(127.246094 0)"/>
<use href="#DejaVuSans-35" transform="translate(190.869141 0)"/>
<use href="#DejaVuSans-3a" transform="translate(254.492188 0)"/>
<use href="#DejaVuSans-32" transform="translate(288.183594 0)"/>
<use href="#DejaVuSans-34" transform="translate(351.806641 0)"/>
<use href="#DejaVuSans-34" transform="translate(415.429688 0)"/>
</g>
</g>
</g>
<g id="xtick_75">
<g id="line2d_116">
<path d="M 315.654822 385.92 
L 315.654822 314.608696 
" clip-path="url(#p39784f28c4)" style="fill: none; stroke: #b0b0b0; stroke-width: 0.8; stroke-linecap: square"/>
</g>
<g id="line2d_117">
<g>
<use href="#m1504cfccaf" x="315.654822" y="385.92" style="stroke: #000000; stroke-width: 0.8"/>
</g>
</g>
<g id="text_15" transform="translate(-0.1080 -0.1080)">
<!-- 2025:245 -->
<g transform="translate(273.126949 423.453565) rotate(-30) scale(0.1 -0.1)">
<use href="#DejaVuSans-32"/>
<use href="#DejaVuSans-30" transform="translate(63.623047 0)"/>
<use href="#DejaVuSans-32" transform="translate(127.246094 0)"/>
<use href="#DejaVuSans-35" transform="translate(190.869141 0)"/>
<use href="#DejaVuSans-3a" transform="translate(254.492188 0)"/>
<use href="#DejaVuSans-32" transform="translate(288.183594 0)"/>
<use href="#DejaVuSans-34" transform="translate(351.806641 0)"/>
<use href="#DejaVuSans-35" transform="translate(415.429688 0)"/>
</g>
</g>
</g>
<g id="xtick_76">
<g id="line2d_118">
<path d="M 410.071066 385.92 
L 410.071066 314.608696 
" clip-path="url(#p39784f28c4)" style="fill: none; stroke: #b0b0b0; stroke-width: 0.8; stroke-linecap: square"/>
</g>
<g id="line2d_119">
<g>
<use href="#m1504cfccaf" x="410.071066" y="385.92" style="stroke: #000000; stroke-width: 0.8"/>
</g>
</g>
<g id="text_16" transform="translate(-0.1080 -0.1080)">
<!-- 2025:246 -->
<g transform="translate(367.543193 423.453565) rotate(-30) scale(0.1 -0.1)">
<use href="#DejaVuSans-32"/>
<use href="#DejaVuSans-30" transform="translate(63.623047 0)"/>
<use href="#DejaVuSans-32" transform="translate(127.246094 0)"/>
<use href="#DejaVuSans-35" transform="translate(190.869141 0)"/>
<use href="#DejaVuSans-3a" transform="translate(254.492188 0)"/>
<use href="#DejaVuSans-32" transform="translate(288.183594 0)"/>
<use href="#DejaVuSans-34" transform="translate(351.806641 0)"/>
<use href="#DejaVuSans-36" transform="translate(415.429688 0)"/>
</g>
</g>
</g>
<g id="xtick_77">
<g id="line2d_120">
<path d="M 504.48731 385.92 
L 504.48731 314.608696 
" clip-path="url(#p39784f28c4)" style="fill: none; stroke: #b0b0b0; stroke-width: 0.8; stroke-linecap: square"/>
</g>
<g id="line2d_121">
<g>
<use href="#m1504cfccaf" x="504.48731" y="385.92" style="stroke: #000000; stroke-width: 0.8"/>
</g>
</g>
<g id="text_17" transform="translate(-0.1080 -0.1080)">
<!-- 2025:247 -->
<g transform="translate(461.959436 423.453565) rotate(-30) scale(0.1 -0.1)">
<defs>
<path id="DejaVuSans-37" d="M 525 4666 
L 3525 4666 
L 3525 4397 
L 1831 0 
L 1172 0 
L 2766 4134 
L 525 4134 
L 525 4666 
z
" transform="scale(0.015625)"/>
</defs>
<use href="#DejaVuSans-32"/>
<use href="#DejaVuSans-30" transform="translate(63.623047 0)"/>
<use href="#DejaVuSans-32" transform="translate(127.246094 0)"/>
<use href="#DejaVuSans-35" transform="translate(190.869141 0)"/>
<use href="#DejaVuSans-3a" transform="translate(254.492188 0)"/>
<use href="#DejaVuSans-32" transform="translate(288.183594 0)"/>
<use href="#DejaVuSans-34" transform="translate(351.806641 0)"/>
<use href="#DejaVuSans-37" transform="translate(415.429688 0)"/>
</g>
</g>
</g>
<g id="xtick_78">
<g id="line2d_122">
<path d="M 598.903553 385.92 
L 598.903553 314.608696 
" clip-path="url(#p39784f28c4)" style="fill: none; stroke: #b0b0b0; stroke-width: 0.8; stroke-linecap: square"/>
</g>
<g id="line2d_123">
<g>
<use href="#m1504cfccaf" x="598.903553" y="385.92" style="stroke: #000000; stroke-width: 0.8"/>
</g>
</g>
<g id="text_18" transform="translate(-0.1080 -0.1080)">
<!-- 2025:248 -->
<g transform="translate(556.37568 423.453565) rotate(-30) scale(0.1 -0.1)">
<defs>
<path id="DejaVuSans-38" d="M 2034 2216 
Q 1584 2216 1326 1975 
Q 1069 1734 1069 1313 
Q 1069 891 1326 650 
Q 1584 409 2034 409 
Q 2484 409 2743 651 
Q 3003 894 3003 1313 
Q 3003 1734 2745 1975 
Q 2488 2216 2034 2216 
z
M 1403 2484 
Q 997 2584 770 2862 
Q 544 3141 544 3541 
Q 544 4100 942 4425 
Q 1341 4750 2034 4750 
Q 2731 4750 3128 4425 
Q 3525 4100 3525 3541 
Q 3525 3141 3298 2862 
Q 3072 2584 2669 2484 
Q 3125 2378 3379 2068 
Q 3634 1759 3634 1313 
Q 3634 634 3220 271 
Q 2806 -91 2034 -91 
Q 1263 -91 848 271 
Q 434 634 434 1313 
Q 434 1759 690 2068 
Q 947 2378 1403 2484 
z
M 1172 3481 
Q 1172 3119 1398 2916 
Q 1625 2713 2034 2713 
Q 2441 2713 2670 2916 
Q 2900 3119 2900 3481 
Q 2900 3844 2670 4047 
Q 2441 4250 2034 4250 
Q 1625 4250 1398 4047 
Q 1172 3844 1172 3481 
z
" transform="scale(0.015625)"/>
</defs>
<use href="#DejaVuSans-32"/>
<use href="#DejaVuSans-30" transform="translate(63.623047 0)"/>
<use href="#DejaVuSans-32" transform="translate(127.246094 0)"/>
<use href="#DejaVuSans-35" transform="translate(190.869141 0)"/>
<use href="#DejaVuSans-3a" transform="translate(254.492188 0)"/>
<use href="#DejaVuSans-32" transform="translate(288.183594 0)"/>
<use href="#DejaVuSans-34" transform="translate(351.806641 0)"/>
<use href="#DejaVuSans-38" transform="translate(415.429688 0)"/>
</g>
</g>
</g>
<g id="xtick_79">
<g id="line2d_124">
<g>
<use href="#m05db3bdf9b" x="103.218274" y="385.92" style="stroke: #000000; stroke-width: 0.6"/>
</g>
</g>
</g>
<g id="xtick_80">
<g id="line2d_125">
<g>
<use href="#m05db3bdf9b" x="150.426396" y="385.92" style="stroke: #000000; stroke-width: 0.6"/>
</g>
</g>
</g>
<g id="xtick_81">
<g id="line2d_126">
<g>
<use href="#m05db3bdf9b" x="174.030457" y="385.92" style="stroke: #000000; stroke-width: 0.6"/>
</g>
</g>
</g>
<g id="xtick_82">
<g id="line2d_127">
<g>
<use href="#m05db3bdf9b" x="197.634518" y="385.92" style="stroke: #000000; stroke-width: 0.6"/>
</g>
</g>
</g>
<g id="xtick_83">
<g id="line2d_128">
<g>
<use href="#m05db3bdf9b" x="244.84264" y="385.92" style="stroke: #000000; stroke-width: 0.6"/>
</g>
</g>
</g>
<g id="xtick_84">
<g id="line2d_129">
<g>
<use href="#m05db3bdf9b" x="268.446701" y="385.92" style="stroke: #000000; stroke-width: 0.6"/>
</g>
</g>
</g>
<g id="xtick_85">
<g id="line2d_130">
<g>
<use href="#m05db3bdf9b" x="292.050761" y="385.92" style="stroke: #000000; stroke-width: 0.6"/>
</g>
</g>
</g>
<g id="xtick_86">
<g id="line2d_131">
<g>
<use href="#m05db3bdf9b" x="339.258883" y="385.92" style="stroke: #000000; stroke-width: 0.6"/>
</g>
</g>
</g>
<g id="xtick_87">
<g id="line2d_132">
<g>
<use href="#m05db3bdf9b" x="362.862944" y="385.92" style="stroke: #000000; stroke-width: 0.6"/>
</g>
</g>
</g>
<g id="xtick_88">
<g id="line2d_133">
<g>
<use href="#m05db3bdf9b" x="386.467005" y="385.92" style="stroke: #000000; stroke-width: 0.6"/>
</g>
</g>
</g>
<g id="xtick_89">
<g id="line2d_134">
<g>
<use href="#m05db3bdf9b" x="433.675127" y="385.92" style="stroke: #000000; stroke-width: 0.6"/>
</g>
</g>
</g>
<g id="xtick_90">
<g id="line2d_135">
<g>
<use href="#m05db3bdf9b" x="457.279188" y="385.92" style="stroke: #000000; stroke-width: 0.6"/>
</g>
</g>
</g>
<g id="xtick_91">
<g id="line2d_136">
<g>
<use href="#m05db3bdf9b" x="480.883249" y="385.92" style="stroke: #000000; stroke-width: 0.6"/>
</g>
</g>
</g>
<g id="xtick_92">
<g id="line2d_137">
<g>
<use href="#m05db3bdf9b" x="528.091371" y="385.92" style="stroke: #000000; stroke-width: 0.6"/>
</g>
</g>
</g>
<g id="xtick_93">
<g id="line2d_138">
<g>
<use href="#m05db3bdf9b" x="551.695431" y="385.92" style="stroke: #000000; stroke-width: 0.6"/>
</g>
</g>
</g>
<g id="xtick_94">
<g id="line2d_139">
<g>
<use href="#m05db3bdf9b" x="575.299492" y="385.92" style="stroke: #000000; stroke-width: 0.6"/>
</g>
</g>
</g>
<g id="xtick_95">
<g id="line2d_140">
<g>
<use href="#m05db3bdf9b" x="622.507614" y="385.92" style="stroke: #000000; stroke-width: 0.6"/>
</g>
</g>
</g>
<g id="xtick_96">
<g id="line2d_141">
<g>
<use href="#m05db3bdf9b" x="646.111675" y="385.92" style="stroke: #000000; stroke-width: 0.6"/>
</g>
</g>
</g>
<g id="text_19" transform="translate(-0.1080 -0.1080)">
<!-- Day of Year -->
<g transform="translate(343.387266 436.093221) scale(0.09 -0.09)">
<defs>
<path id="DejaVuSans-44" d="M 1259 4147 
L 1259 519 
L 2022 519 
Q 2988 519 3436 956 
Q 3884 1394 3884 2338 
Q 3884 3275 3436 3711 
Q 2988 4147 2022 4147 
L 1259 4147 
z
M 628 4666 
L 1925 4666 
Q 3281 4666 3915 4102 
Q 4550 3538 4550 2338 
Q 4550 1131 3912 565 
Q 3275 0 1925 0 
L 628 0 
L 628 4666 
z
" transform="scale(0.015625)"/>
<path id="DejaVuSans-79" d="M 2059 -325 
Q 1816 -950 1584 -1140 
Q 1353 -1331 966 -1331 
L 506 -1331 
L 506 -850 
L 844 -850 
Q 1081 -850 1212 -737 
Q 1344 -625 1503 -206 
L 1606 56 
L 191 3500 
L 800 3500 
L 1894 763 
L 2988 3500 
L 3597 3500 
L 2059 -325 
z
" transform="scale(0.015625)"/>
<path id="DejaVuSans-66" d="M 2375 4863 
L 2375 4384 
L 1825 4384 
Q 1516 4384 1395 4259 
Q 1275 4134 1275 3809 
L 1275 3500 
L 2222 3500 
L 2222 3053 
L 1275 3053 
L 1275 0 
L 697 0 
L 697 3053 
L 147 3053 
L 147 3500 
L 697 3500 
L 697 3744 
Q 697 4328 969 4595 
Q 1241 4863 1831 4863 
L 2375 4863 
z
" transform="scale(0.015625)"/>
<path id="DejaVuSans-59" d="M -13 4666 
L 666 4666 
L 1959 2747 
L 3244 4666 
L 3922 4666 
L 2272 2222 
L 2272 0 
L 1638 0 
L 1638 2222 
L -13 4666 
z
" transform="scale(0.015625)"/>
</defs>
<use href="#DejaVuSans-44"/>
<use href="#DejaVuSans-61" transform="translate(77.001953 0)"/>
<use href="#DejaVuSans-79" transform="translate(138.28125 0)"/>
<use href="#DejaVuSans-20" transform="translate(197.460938 0)"/>
<use href="#DejaVuSans-6f" transform="translate(229.248047 0)"/>
<use href="#DejaVuSans-66" transform="translate(290.429688 0)"/>
<use href="#DejaVuSans-20" transform="translate(325.634766 0)"/>
<use href="#DejaVuSans-59" transform="translate(357.421875 0)"/>
<use href="#DejaVuSans-65" transform="translate(405.255859 0)"/>
<use href="#DejaVuSans-61" transform="translate(466.779297 0)"/>
<use href="#DejaVuSans-72" transform="translate(528.058594 0)"/>
</g>
</g>
</g>
<g id="matplotlib.axis_8">
<g id="ytick_7">
<g id="line2d_142">
<path d="M 90 378.78887 
L 648 378.78887 
" clip-path="url(#p39784f28c4)" style="fill: none; stroke: #b0b0b0; stroke-width: 0.8; stroke-linecap: square"/>
</g>
<g id="line2d_143">
<g>
<use href="#m5d545ce8f8" x="90" y="378.78887" style="stroke: #000000; stroke-width: 0.8"/>
</g>
</g>
<g id="text_20" transform="translate(-0.1080 -0.1080)">
<!-- 2 -->
<g transform="translate(76.6375 382.588088) scale(0.1 -0.1)">
<use href="#DejaVuSans-32"/>
</g>
</g>
</g>
<g id="ytick_8">
<g id="line2d_144">
<path d="M 90 350.264348 
L 648 350.264348 
" clip-path="url(#p39784f28c4)" style="fill: none; stroke: #b0b0b0; stroke-width: 0.8; stroke-linecap: square"/>
</g>
<g id="line2d_145">
<g>
<use href="#m5d545ce8f8" x="90" y="350.264348" style="stroke: #000000; stroke-width: 0.8"/>
</g>
</g>
<g id="text_21" transform="translate(-0.1080 -0.1080)">
<!-- 4 -->
<g transform="translate(76.6375 354.063567) scale(0.1 -0.1)">
<use href="#DejaVuSans-34"/>
</g>
</g>
</g>
<g id="ytick_9">
<g id="line2d_146">
<path d="M 90 321.739826 
L 648 321.739826 
" clip-path="url(#p39784f28c4)" style="fill: none; stroke: #b0b0b0; stroke-width: 0.8; stroke-linecap: square"/>
</g>
<g id="line2d_147">
<g>
<use href="#m5d545ce8f8" x="90" y="321.739826" style="stroke: #000000; stroke-width: 0.8"/>
</g>
</g>
<g id="text_22" transform="translate(-0.1080 -0.1080)">
<!-- 6 -->
<g transform="translate(76.6375 325.539045) scale(0.1 -0.1)">
<use href="#DejaVuSans-36"/>
</g>
</g>
</g>
<g id="text_23" transform="translate(-0.1080 -0.1080)">
<!-- Log$_{10}$(HRC Proxy Rate) -->
<g transform="translate(70.1955 401.654348) rotate(-90) scale(0.09 -0.09)">
<defs>
<path id="DejaVuSans-48" d="M 628 4666 
L 1259 4666 
L 1259 2753 
L 3553 2753 
L 3553 4666 
L 4184 4666 
L 4184 0 
L 3553 0 
L 3553 2222 
L 1259 2222 
L 1259 0 
L 628 0 
L 628 4666 
z
" transform="scale(0.015625)"/>
<path id="DejaVuSans-43" d="M 4122 4306 
L 4122 3641 
Q 3803 3938 3442 4084 
Q 3081 4231 2675 4231 
Q 1875 4231 1450 3742 
Q 1025 3253 1025 2328 
Q 1025 1406 1450 917 
Q 1875 428 2675 428 
Q 3081 428 3442 575 
Q 3803 722 4122 1019 
L 4122 359 
Q 3791 134 3420 21 
Q 3050 -91 2638 -91 
Q 1578 -91 968 557 
Q 359 1206 359 2328 
Q 359 3453 968 4101 
Q 1578 4750 2638 4750 
Q 3056 4750 3426 4639 
Q 3797 4528 4122 4306 
z
" transform="scale(0.015625)"/>
<path id="DejaVuSans-78" d="M 3513 3500 
L 2247 1797 
L 3578 0 
L 2900 0 
L 1881 1375 
L 863 0 
L 184 0 
L 1544 1831 
L 300 3500 
L 978 3500 
L 1906 2253 
L 2834 3500 
L 3513 3500 
z
" transform="scale(0.015625)"/>
</defs>
<use href="#DejaVuSans-4c" transform="translate(0 0.125)"/>
<use href="#DejaVuSans-6f" transform="translate(55.712891 0.125)"/>
<use href="#DejaVuSans-67" transform="translate(116.894531 0.125)"/>
<use href="#DejaVuSans-31" transform="translate(181.328125 -16.28125) scale(0.7)"/>
<use href="#DejaVuSans-30" transform="translate(225.864258 -16.28125) scale(0.7)"/>
<use href="#DejaVuSans-28" transform="translate(273.134766 0.125)"/>
<use href="#DejaVuSans-48" transform="translate(312.148438 0.125)"/>
<use href="#DejaVuSans-52" transform="translate(387.34375 0.125)"/>
<use href="#DejaVuSans-43" transform="translate(456.826172 0.125)"/>
<use href="#DejaVuSans-20" transform="translate(526.650391 0.125)"/>
<use href="#DejaVuSans-50" transform="translate(558.4375 0.125)"/>
<use href="#DejaVuSans-72" transform="translate(618.740234 0.125)"/>
<use href="#DejaVuSans-6f" transform="translate(659.853516 0.125)"/>
<use href="#DejaVuSans-78" transform="translate(721.035156 0.125)"/>
<use href="#DejaVuSans-79" transform="translate(780.214844 0.125)"/>
<use href="#DejaVuSans-20" transform="translate(839.394531 0.125)"/>
<use href="#DejaVuSans-52" transform="translate(871.181641 0.125)"/>
<use href="#DejaVuSans-61" transform="translate(940.664062 0.125)"/>
<use href="#DejaVuSans-74" transform="translate(1001.943359 0.125)"/>
<use href="#DejaVuSans-65" transform="translate(1041.152344 0.125)"/>
<use href="#DejaVuSans-29" transform="translate(1102.675781 0.125)"/>
</g>
</g>
</g>
<g transform="translate(-0.1080 -0.1080) scale(0.24)"><defs><clipPath id="cd3"><rect x="375.00" y="1310.87" width="2325.00" height="297.13"/></clipPath></defs><g clip-path="url(#cd3)"><polyline transform="translate(.5 .5)" fill="none" stroke="none" marker-start="url(#mk)" marker-mid="url(#mk)" marker-end="url(#mk)" points="480,1476 482,1477 483,1477 484,1478 486,1477 487,1479 488,1477 490,1477 491,1476 492,1479 494,1478 495,1478 497,1479 498,1478 499,1479 501,1479 502,1480 503,1479 505,1479 506,1480 507,1478 509,1480 510,1478 512,1478 513,1479 514,1480 516,1479 517,1480 518,1479 520,1479 521,1477 523,1480 524,1479 525,1478 527,1478 528,1478 529,1480 531,1478 532,1481 533,1479 535,1478 536,1478 538,1480 539,1480 540,1481 542,1480 543,1480 544,1479 546,1480 547,1479 548,1479 550,1479 551,1478 553,1478 554,1480 555,1478 557,1479 558,1478 559,1479 561,1480 562,1479 563,1481 565,1480 566,1480 568,1478 569,1479 570,1479 572,1479 573,1480 574,1478 576,1479 577,1480 579,1480 580,1479 581,1479 583,1478 584,1480 585,1479 587,1478 588,1477 589,1478 591,1479 592,1480 594,1479 595,1479 596,1480 598,1478 599,1477 600,1480 602,1480 603,1480 604,1480 606,1479 607,1481 609,1479 610,1479 611,1479 613,1481 614,1479 615,1479 617,1479 618,1479 619,1480 621,1479 622,1478 624,1478 625,1480 626,1479 628,1480 629,1480 630,1479 632,1481 633,1477 635,1479 636,1480 637,1480 639,1479 640,1480 641,1480 643,1480 644,1481 645,1480 647,1478 648,1479 650,1480 651,1478 652,1479 654,1479 655,1480 656,1479 658,1480 659,1479 660,1479 662,1478 663,1479 665,1479 666,1480 667,1480 669,1480 670,1478 671,1480 673,1481 674,1479 676,1479 677,1480 678,1479 680,1480 681,1479 682,1480 684,1479 685,1479 686,1480 688,1479 689,1480 691,1479 692,1478 693,1480 695,1479 696,1478 697,1478 699,1480 700,1480 701,1479 703,1480 704,1479 706,1480 707,1479 708,1481 710,1479 711,1479 712,1480 714,1481 715,1480 716,1481 718,1478 719,1481 721,1480 722,1479 723,1479 725,1479 726,1478 727,1479 729,1479 730,1480 732,1480 733,1479 734,1479 736,1479 737,1481 738,1480 740,1480 741,1480 742,1480 744,1479 745,1479 747,1478 748,1480 749,1480 751,1479 752,1479 753,1480 755,1479 756,1481 757,1480 759,1481 760,1479 762,1481 763,1480 764,1479 766,1480 767,1479 768,1480 770,1478 771,1480 772,1480 774,1479 775,1479 777,1479 778,1480 779,1479 781,1479 782,1478 783,1480 785,1479 786,1480 788,1479 789,1480 790,1479 792,1480 793,1479 794,1479 796,1481 797,1479 798,1481 800,1479 801,1481 803,1479 804,1480 805,1481 807,1481 808,1479 809,1480 811,1479 812,1479 813,1477 815,1479 816,1478 818,1479 819,1479 820,1479 822,1480 823,1480 824,1478 826,1480 827,1480 828,1479 830,1480 831,1479 833,1479 834,1478 835,1478 837,1479 838,1479 839,1479 841,1479 842,1479 844,1478 845,1479 846,1478 848,1480 849,1478 850,1482 852,1479 853,1480 854,1478 856,1478 857,1480 859,1479 860,1479 861,1479 863,1479 864,1479 865,1480 867,1478 868,1479 869,1482 871,1480 872,1479 874,1478 875,1479 876,1481 878,1478 879,1479 880,1479 882,1479 883,1480 884,1479 886,1479 887,1479 889,1479 890,1480 891,1478 893,1480 894,1480 895,1479 897,1480 898,1479 900,1479 901,1479 902,1480 904,1479 905,1478 906,1480 908,1478 909,1478 910,1480 912,1479 913,1480 915,1479 916,1480 917,1480 919,1481 920,1479 921,1480 923,1480 924,1481 925,1479 927,1478 928,1480 930,1479 931,1480 932,1480 934,1480 935,1480 936,1480 938,1480 939,1479 941,1480 942,1479 943,1478 945,1479 946,1480 947,1481 949,1479 950,1479 951,1478 953,1479 954,1477 956,1479 957,1479 958,1480 960,1480 961,1479 962,1479 964,1479 965,1482 966,1478 968,1478 969,1478 971,1479 972,1479 973,1479 975,1478 976,1480 977,1479 979,1479 980,1479 981,1478 983,1480 984,1480 986,1479 987,1480 988,1478 990,1480 991,1480 992,1479 994,1479 995,1480 997,1478 998,1481 999,1478 1001,1480 1002,1479 1003,1478 1005,1479 1006,1479 1007,1479 1009,1477 1010,1479 1012,1479 1013,1479 1014,1480 1016,1479 1017,1479 1018,1478 1020,1479 1021,1478 1022,1478 1024,1477 1025,1480 1027,1478 1028,1479 1029,1478 1031,1478 1032,1478 1033,1478 1035,1479 1036,1479 1037,1477 1039,1478 1040,1478 1042,1478 1043,1477 1044,1476 1046,1478 1047,1477 1048,1479 1050,1478 1051,1478 1053,1478 1054,1477 1055,1477 1057,1477 1058,1477 1059,1478 1061,1478 1062,1478 1063,1478 1065,1478 1066,1477 1068,1479 1069,1477 1070,1477 1072,1477 1073,1478 1074,1478 1076,1476 1077,1478 1078,1477 1080,1477 1081,1478 1083,1478 1084,1477 1085,1477 1087,1478 1088,1476 1089,1477 1091,1477 1092,1476 1093,1476 1095,1477 1096,1478 1098,1477 1099,1476 1100,1478 1102,1476 1103,1477 1104,1476 1106,1477 1107,1477 1109,1476 1110,1476 1111,1478 1113,1476 1114,1478 1115,1477 1117,1477 1118,1477 1119,1476 1121,1478 1122,1477 1124,1476 1125,1477 1126,1478 1128,1477 1129,1477 1130,1478 1132,1476 1133,1478 1134,1478 1136,1477 1137,1478 1139,1477 1140,1477 1141,1478 1143,1477 1144,1477 1145,1477 1147,1478 1148,1478 1149,1477 1151,1477 1152,1479 1154,1479 1155,1477 1156,1477 1158,1478 1159,1478 1160,1477 1162,1478 1163,1479 1165,1477 1166,1478 1167,1478 1169,1479 1170,1477 1171,1478 1173,1479 1174,1477 1175,1479 1177,1478 1178,1478 1180,1479 1181,1479 1182,1478 1184,1479 1185,1479 1186,1478 1188,1479 1189,1478 1190,1479 1192,1479 1193,1479 1195,1478 1196,1479 1197,1479 1199,1478 1200,1478 1201,1480 1203,1478 1204,1479 1206,1479 1207,1479 1208,1479 1210,1479 1211,1478 1212,1478 1214,1479 1215,1479 1216,1478 1218,1478 1219,1479 1221,1479 1222,1479 1223,1479 1225,1479 1226,1479 1227,1479 1229,1481 1230,1480 1231,1479 1233,1479 1234,1479 1236,1479 1237,1479 1238,1479 1240,1480 1241,1479 1242,1478 1244,1480 1245,1480 1246,1479 1248,1481 1249,1480 1251,1479 1252,1479 1253,1479 1255,1478 1256,1480 1257,1478 1259,1479 1260,1480 1262,1479 1263,1479 1264,1479 1266,1480 1267,1481 1268,1481 1270,1480 1271,1479 1272,1480 1274,1479 1275,1481 1277,1481 1278,1480 1279,1479 1281,1479 1282,1479 1283,1480 1285,1480 1286,1479 1287,1480 1289,1480 1290,1480 1292,1480 1293,1479 1294,1479 1296,1480 1297,1481 1298,1479 1300,1479 1301,1479 1302,1479 1304,1479 1305,1479 1307,1480 1308,1480 1309,1480 1311,1480 1312,1480 1313,1480 1315,1481 1316,1480 1318,1479 1319,1482 1320,1479 1322,1480 1323,1480 1324,1480 1326,1480 1327,1480 1328,1479 1330,1480 1331,1479 1333,1480 1334,1480 1335,1480 1337,1480 1338,1480 1339,1479 1341,1480 1342,1479 1343,1479 1345,1479 1346,1480 1348,1479 1349,1481 1350,1479 1352,1482 1353,1481 1354,1480 1356,1480 1357,1481 1358,1481 1360,1480 1361,1481 1363,1479 1364,1479 1365,1479 1367,1480 1368,1480 1369,1480 1371,1478 1372,1479 1374,1479 1375,1480 1376,1479 1378,1481 1379,1479 1380,1480 1382,1482 1383,1479 1384,1481 1386,1480 1387,1481 1389,1480 1390,1479 1391,1480 1393,1480 1394,1481 1395,1479 1397,1480 1398,1480 1399,1481 1401,1480 1402,1480 1404,1481 1405,1480 1406,1481 1408,1479 1409,1480 1410,1480 1412,1478 1413,1479 1414,1480 1416,1479 1417,1480 1419,1479 1420,1481 1421,1479 1423,1480 1424,1480 1425,1481 1427,1480 1428,1479 1430,1480 1431,1481 1432,1480 1434,1480 1435,1479 1436,1480 1438,1480 1439,1478 1440,1480 1442,1480 1443,1481 1445,1479 1446,1480 1447,1479 1449,1479 1450,1480 1451,1481 1453,1480 1454,1480 1455,1480 1457,1480 1458,1481 1460,1480 1461,1480 1462,1480 1464,1479 1465,1479 1466,1481 1468,1479 1469,1480 1470,1479 1472,1479 1473,1481 1475,1480 1476,1480 1477,1479 1479,1480 1480,1479 1481,1481 1483,1481 1484,1480 1486,1482 1487,1481 1488,1480 1490,1480 1491,1480 1492,1480 1494,1481 1495,1481 1496,1480 1498,1480 1499,1480 1501,1480 1502,1480 1503,1481 1505,1480 1506,1480 1507,1481 1509,1480 1510,1480 1511,1479 1513,1480 1514,1481 1516,1481 1517,1481 1518,1482 1520,1482 1521,1480 1522,1480 1524,1480 1525,1482 1527,1482 1528,1482 1529,1479 1531,1479 1532,1481 1533,1480 1535,1480 1536,1481 1537,1481 1539,1480 1540,1480 1542,1480 1543,1480 1544,1480 1546,1480 1547,1481 1548,1479 1550,1480 1551,1480 1552,1480 1554,1481 1555,1480 1557,1481 1558,1481 1559,1480 1561,1479 1562,1480 1563,1481 1565,1481 1566,1482 1567,1480 1569,1480 1570,1481 1572,1480 1573,1481 1574,1479 1576,1480 1577,1480 1578,1479 1580,1482 1581,1480 1583,1480 1584,1481 1585,1480 1587,1480 1588,1481 1589,1481 1591,1479 1592,1480 1593,1480 1595,1480 1596,1480 1598,1481 1599,1481 1600,1480 1602,1481 1603,1482 1604,1481 1606,1480 1607,1481 1608,1480 1610,1480 1611,1480 1613,1480 1614,1481 1615,1480 1617,1480 1618,1481 1619,1481 1621,1480 1622,1481 1623,1480 1625,1481 1626,1480 1628,1479 1629,1479 1630,1482 1632,1482 1633,1483 1634,1480 1636,1479 1637,1480 1639,1481 1640,1480 1641,1481 1643,1480 1644,1480 1645,1480 1647,1480 1648,1481 1649,1481 1651,1481 1652,1479 1654,1480 1655,1481 1656,1481 1658,1480 1659,1481 1660,1480 1662,1480 1663,1480 1664,1481 1666,1483 1667,1481 1669,1482 1670,1482 1671,1479 1673,1481 1674,1481 1675,1481 1677,1481 1678,1479 1679,1482 1681,1480 1682,1481 1684,1480 1685,1480 1686,1481 1688,1482 1689,1480 1690,1480 1692,1480 1693,1481 1695,1480 1696,1481 1697,1481 1699,1480 1700,1481 1701,1482 1703,1481 1704,1481 1705,1482 1707,1480 1708,1481 1710,1481 1711,1481 1712,1480 1714,1481 1715,1481 1716,1481 1718,1481 1719,1481 1720,1482 1722,1480 1723,1481 1725,1480 1726,1480 1727,1481 1729,1481 1730,1480 1731,1481 1733,1481 1734,1481 1735,1481 1737,1482 1738,1481 1740,1482 1741,1480 1742,1481 1744,1481 1745,1481 1746,1480 1748,1479 1749,1481 1751,1481 1752,1480 1753,1481 1755,1481 1756,1480 1757,1482 1759,1480 1760,1482 1761,1482 1763,1481 1764,1480 1766,1481 1767,1481 1768,1482 1770,1480 1771,1481 1772,1480 1774,1481 1775,1481 1776,1482 1778,1481 1779,1480 1781,1481 1782,1481 1783,1481 1785,1480 1786,1482 1787,1481 1789,1481 1790,1481 1792,1482 1793,1482 1794,1481 1796,1480 1797,1480 1798,1481 1800,1482 1801,1481 1802,1481 1804,1482 1805,1482 1807,1482 1808,1482 1809,1481 1811,1481 1812,1481 1813,1481 1815,1480 1816,1481 1817,1480 1819,1482 1820,1482 1822,1481 1823,1482 1824,1480 1826,1481 1827,1480 1828,1480 1830,1481 1831,1480 1832,1483 1834,1480 1835,1481 1837,1481 1838,1480 1839,1481 1841,1482 1842,1483 1843,1480 1845,1483 1846,1481 1848,1480 1849,1481 1850,1482 1852,1481 1853,1482 1854,1481 1856,1481 1857,1482 1858,1482 1860,1480 1861,1482 1863,1482 1864,1479 1865,1482 1867,1482 1868,1482 1869,1481 1871,1482 1872,1481 1873,1483 1875,1482 1876,1481 1878,1481 1879,1480 1880,1481 1882,1483 1883,1482 1884,1482 1886,1481 1887,1481 1888,1481 1890,1482 1891,1483 1893,1481 1894,1482 1895,1483 1897,1482 1898,1482 1899,1482 1901,1482 1902,1480 1904,1482 1905,1481 1906,1481 1908,1482 1909,1479 1910,1482 1912,1479 1913,1482 1914,1481 1916,1481 1917,1480 1919,1481 1920,1482 1921,1482 1923,1480 1924,1480 1925,1482 1927,1480 1928,1481 1929,1481 1931,1482 1932,1482 1934,1481 1935,1483 1936,1482 1938,1481 1939,1483 1940,1480 1942,1480 1943,1482 1944,1481 1946,1481 1947,1482 1949,1482 1950,1481 1951,1480 1953,1481 1954,1481 1955,1481 1957,1482 1958,1481 1960,1482 1961,1482 1962,1481 1964,1483 1965,1482 1966,1482 1968,1481 1969,1482 1970,1482 1972,1481 1973,1481 1975,1481 1976,1481 1977,1482 1979,1481 1980,1483 1981,1481 1983,1481 1984,1481 1985,1482 1987,1480 1988,1482 1990,1480 1991,1481 1992,1482 1994,1481 1995,1482 1996,1481 1998,1481 1999,1481 2000,1482 2002,1481 2003,1481 2005,1481 2006,1481 2007,1481 2009,1481 2010,1481 2011,1481 2013,1480 2014,1481 2016,1481 2017,1481 2018,1482 2020,1482 2021,1481 2022,1481 2024,1481 2025,1480 2026,1482 2028,1483 2029,1481 2031,1482 2032,1481 2033,1481 2035,1479 2036,1482 2037,1482 2039,1481 2040,1482 2041,1482 2043,1480 2044,1481 2046,1481 2047,1480 2048,1483 2050,1481 2051,1481 2052,1481 2054,1482 2055,1482 2057,1481 2058,1481 2059,1482 2061,1481 2062,1483 2063,1481 2065,1481 2066,1482 2067,1482 2069,1481 2070,1481 2072,1480 2073,1481 2074,1481 2076,1481 2077,1481 2078,1481 2080,1481 2081,1482 2082,1482 2084,1482 2085,1482 2087,1482 2088,1482 2089,1481 2091,1482 2092,1481 2093,1482 2095,1481 2096,1481 2097,1480 2099,1481 2100,1482 2102,1481 2103,1482 2104,1482 2106,1482 2107,1482 2108,1481 2110,1481 2111,1479 2113,1481 2114,1481 2115,1481 2117,1482 2118,1482 2119,1481 2121,1481 2122,1481 2123,1481 2125,1482 2126,1481 2128,1481 2129,1482 2130,1481 2132,1481 2133,1481 2134,1481 2136,1482 2137,1481 2138,1480 2140,1482 2141,1481 2143,1482 2144,1479 2145,1481 2147,1481 2148,1481 2149,1482 2151,1482 2152,1480 2153,1481 2155,1482 2156,1481 2158,1481 2159,1482 2160,1481 2162,1481 2163,1482 2164,1482 2166,1483 2167,1483 2169,1481 2170,1480 2171,1480 2173,1482 2174,1481 2175,1482 2177,1481 2178,1481 2179,1481 2181,1481 2182,1482 2184,1481 2185,1482 2186,1481 2188,1481 2189,1481 2190,1482 2192,1482 2193,1483 2194,1481 2196,1483 2197,1480 2199,1482 2200,1482 2201,1481 2203,1482 2204,1481 2205,1482 2207,1480 2208,1481 2209,1481 2211,1482 2212,1480 2214,1481 2215,1481 2216,1481 2218,1481 2219,1482 2220,1481 2222,1483 2223,1481 2225,1481 2226,1481 2227,1482 2229,1481 2230,1481 2231,1481 2233,1482 2234,1482 2235,1481 2237,1481 2238,1482 2240,1482 2241,1482 2242,1482 2244,1482 2245,1481 2246,1481 2248,1481 2249,1481 2250,1481 2252,1482 2253,1482 2255,1481 2256,1480 2257,1483 2259,1482 2260,1481 2261,1482 2263,1481 2264,1481 2265,1482 2267,1482 2268,1481 2270,1482 2271,1481 2272,1481 2274,1482 2275,1481 2276,1482 2278,1481 2279,1482 2281,1480 2282,1482 2283,1481 2285,1480 2286,1480 2287,1481 2289,1481 2290,1481 2291,1481 2293,1482 2294,1483 2296,1481 2297,1481 2298,1480 2300,1480 2301,1482 2302,1482 2304,1481 2305,1481 2306,1481 2308,1481 2309,1483 2311,1480 2312,1482 2313,1481 2315,1481 2316,1482 2317,1481 2319,1480 2320,1481 2322,1481 2323,1481 2324,1481 2326,1481 2327,1482 2328,1482 2330,1482 2331,1483 2332,1482 2334,1482 2335,1482 2337,1482 2338,1481 2339,1481 2341,1481 2342,1482 2343,1482 2345,1482 2346,1481 2347,1483 2349,1482 2350,1481 2352,1481 2353,1481 2354,1482 2356,1481 2357,1482 2358,1481 2360,1482 2361,1480 2362,1480 2364,1482 2365,1482 2367,1481 2368,1481 2369,1480 2371,1481 2372,1482 2373,1481 2375,1481 2376,1483 2378,1482 2379,1482 2380,1482 2382,1481 2383,1481 2384,1481 2386,1482 2387,1482 2388,1481 2390,1482 2391,1482 2393,1480 2394,1483 2395,1482 2397,1482 2398,1481 2399,1480 2401,1482 2402,1482 2403,1481 2405,1482 2406,1481 2408,1480 2409,1482 2410,1482 2412,1481 2413,1483 2414,1481 2416,1481 2417,1483 2418,1482 2420,1481 2421,1482 2423,1481 2424,1482 2425,1482 2427,1481 2428,1481 2429,1481 2431,1483 2432,1482 2434,1482 2435,1482 2436,1481 2438,1480 2439,1480 2440,1481 2442,1481 2443,1480 2444,1481 2446,1481 2447,1482 2449,1481 2450,1482 2451,1482 2453,1481 2454,1482 2455,1481 2457,1481 2458,1480 2459,1483 2461,1481 2462,1481 2464,1482 2465,1481 2466,1481 2468,1481 2469,1482 2470,1482 2472,1482 2473,1482 2474,1481 2476,1482 2477,1482 2479,1482 2480,1481 2481,1482 2483,1482 2484,1481 2485,1482 2487,1481 2488,1482 2490,1481 2491,1481 2492,1483 2494,1480 2495,1481 2496,1482 2498,1481 2499,1482 2500,1481 2502,1480 2503,1481 2505,1481 2506,1480 2507,1481 2509,1482 2510,1482 2511,1481 2513,1483 2514,1482 2515,1482 2517,1482 2518,1480 2520,1481 2521,1482 2522,1481 2524,1482 2525,1481 2526,1480 2528,1481 2529,1482 2530,1481 2532,1483 2533,1482 2535,1482 2536,1483 2537,1481 2539,1481 2540,1481 2541,1481 2543,1481 2544,1481 2546,1480 2547,1482 2548,1481 2550,1480 2551,1481 2552,1480 2554,1482 2555,1481 2556,1482 2558,1481 2559,1481 2561,1482 2562,1480 2563,1482 2565,1481 2566,1482 2567,1481 2569,1482 2570,1481 2571,1481 2573,1482 2574,1482 2576,1482 2577,1481 2578,1481 2580,1480 2581,1483 2582,1481 2584,1482 2585,1481 2587,1481 2588,1481 2589,1481 2591,1481 2592,1480 2593,1481"/></g></g>
<g id="VL3">
<path d="M 304.248 385.92 
L 304.248 314.608696 
" clip-path="url(#p39784f28c4)" style="fill: none; stroke: #ff0000; stroke-width: 2; stroke-linecap: square"/>
</g>
<g id="line2d_148">
<path d="M 445.896 385.92 
L 445.896 314.608696 
" clip-path="url(#p39784f28c4)" style="fill: none; stroke: #ff0000; stroke-width: 2; stroke-linecap: square"/>
</g>
<g id="line2d_149">
<path d="M 136.224 385.92 
L 196.752 385.92 
" clip-path="url(#p39784f28c4)" style="fill: none; stroke: #800080; stroke-width: 8"/>
</g>
<g id="line2d_150">
<path d="M 395.472 385.92 
L 448.2 385.92 
" clip-path="url(#p39784f28c4)" style="fill: none; stroke: #800080; stroke-width: 8"/>
</g>
<g id="patch_18">
<path d="M 90 385.92 
L 90 314.608696 
" style="fill: none; stroke: #000000; stroke-width: 0.8; stroke-linejoin: miter; stroke-linecap: square"/>
</g>
<g id="patch_19">
<path d="M 648 385.92 
L 648 314.608696 
" style="fill: none; stroke: #000000; stroke-width: 0.8; stroke-linejoin: miter; stroke-linecap: square"/>
</g>
<g id="patch_20">
<path d="M 90 385.92 
L 648 385.92 
" style="fill: none; stroke: #000000; stroke-width: 0.8; stroke-linejoin: miter; stroke-linecap: square"/>
</g>
<g id="patch_21">
<path d="M 90 314.608696 
L 648 314.608696 
" style="fill: none; stroke: #000000; stroke-width: 0.8; stroke-linejoin: miter; stroke-linecap: square"/>
</g>
<g id="text_24" transform="translate(-0.1080 -0.1080)">
<!-- Interruption -->
<g style="fill: #ff0000" transform="translate(307.872 328.870957) scale(0.1 -0.1)">
<use href="#DejaVuSans-49"/>
<use href="#DejaVuSans-6e" transform="translate(29.492188 0)"/>
<use href="#DejaVuSans-74" transform="translate(92.871094 0)"/>
<use href="#DejaVuSans-65" transform="translate(132.080078 0)"/>
<use href="#DejaVuSans-72" transform="translate(193.603516 0)"/>
<use href="#DejaVuSans-72" transform="translate(232.966797 0)"/>
<use href="#DejaVuSans-75" transform="translate(274.080078 0)"/>
<use href="#DejaVuSans-70" transform="translate(337.458984 0)"/>
<use href="#DejaVuSans-74" transform="translate(400.935547 0)"/>
<use href="#DejaVuSans-69" transform="translate(440.144531 0)"/>
<use href="#DejaVuSans-6f" transform="translate(467.927734 0)"/>
<use href="#DejaVuSans-6e" transform="translate(529.109375 0)"/>
</g>
</g>
</g>
</g></g>
<defs>
<clipPath id="p4e077d8990">
<rect x="90" y="57.888" width="558" height="71.311304"/>
</clipPath>
<clipPath id="p9fffee1bb5">
<rect x="90" y="143.461565" width="558" height="71.311304"/>
</clipPath>
<clipPath id="p0b8de6dfa9">
<rect x="90" y="229.03513" width="558" height="71.311304"/>
</clipPath>
<clipPath id="p39784f28c4">
<rect x="90" y="314.608696" width="558" height="71.311304"/>
</clipPath>
</defs>
</svg>

</body></html>
